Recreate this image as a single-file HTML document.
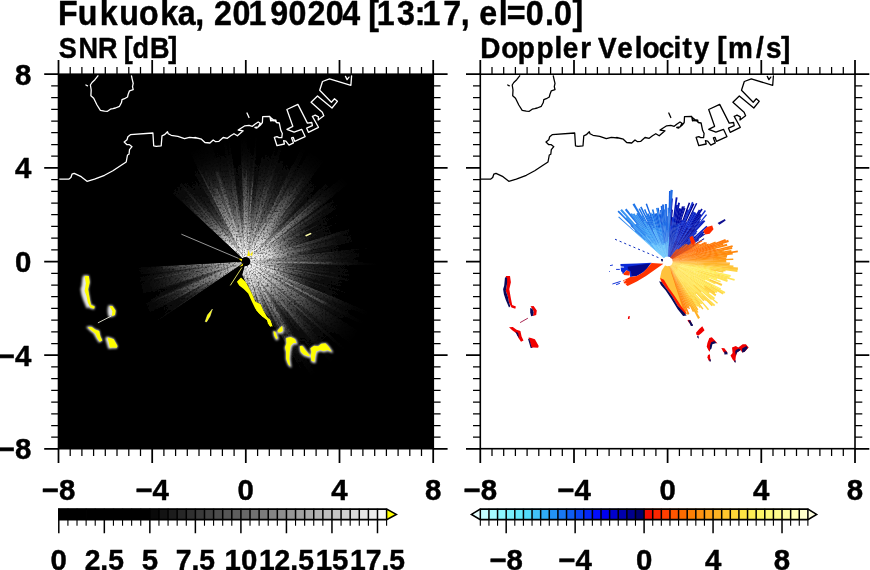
<!DOCTYPE html>
<html><head><meta charset="utf-8"><title>Fukuoka, 20190204 [13:17, el=0.0]</title>
<style>
html,body{margin:0;padding:0;background:#fff;}
svg{display:block}
text{font-family:"Liberation Sans",sans-serif;font-weight:bold;fill:#000;stroke:#000;stroke-width:0.45px;stroke-linejoin:round}
</style></head><body>
<svg width="870" height="570" viewBox="0 0 870 570">
<rect width="870" height="570" fill="#fff"/>

<defs>
<clipPath id="clipL"><rect x="58.5" y="74.2" width="374.8" height="374.5"/></clipPath>
<clipPath id="clipR"><rect x="480.3" y="74.2" width="374.7" height="374.5"/></clipPath>
<radialGradient id="glow" gradientUnits="userSpaceOnUse" cx="249.8" cy="264.6" fx="245.8" fy="261.6" r="128">
<stop offset="0" stop-color="#fff" stop-opacity="1"/>
<stop offset="0.08" stop-color="#fff" stop-opacity="0.97"/>
<stop offset="0.16" stop-color="#fff" stop-opacity="0.88"/>
<stop offset="0.24" stop-color="#fff" stop-opacity="0.73"/>
<stop offset="0.32" stop-color="#fff" stop-opacity="0.58"/>
<stop offset="0.4" stop-color="#fff" stop-opacity="0.45"/>
<stop offset="0.48" stop-color="#fff" stop-opacity="0.34"/>
<stop offset="0.56" stop-color="#fff" stop-opacity="0.25"/>
<stop offset="0.64" stop-color="#fff" stop-opacity="0.165"/>
<stop offset="0.72" stop-color="#fff" stop-opacity="0.1"/>
<stop offset="0.8" stop-color="#fff" stop-opacity="0.055"/>
<stop offset="0.88" stop-color="#fff" stop-opacity="0.022"/>
<stop offset="1" stop-color="#fff" stop-opacity="0"/>
</radialGradient>
<radialGradient id="ray" gradientUnits="userSpaceOnUse" cx="245.8" cy="261.6" r="108">
<stop offset="0" stop-color="#fff" stop-opacity="1"/>
<stop offset="0.5" stop-color="#fff" stop-opacity="0.8"/>
<stop offset="0.85" stop-color="#fff" stop-opacity="0.3"/>
<stop offset="1" stop-color="#fff" stop-opacity="0"/>
</radialGradient>
<radialGradient id="dray" gradientUnits="userSpaceOnUse" cx="245.8" cy="261.6" r="108">
<stop offset="0" stop-color="#000" stop-opacity="0.1"/>
<stop offset="0.15" stop-color="#000" stop-opacity="0.8"/>
<stop offset="1" stop-color="#000" stop-opacity="1"/>
</radialGradient>
<radialGradient id="odark" gradientUnits="userSpaceOnUse" cx="245.8" cy="261.6" r="140">
<stop offset="0" stop-color="#000" stop-opacity="0"/>
<stop offset="0.2" stop-color="#000" stop-opacity="0"/>
<stop offset="0.36" stop-color="#000" stop-opacity="0.55"/>
<stop offset="0.5" stop-color="#000" stop-opacity="0.9"/>
<stop offset="1" stop-color="#000" stop-opacity="1"/>
</radialGradient>
<filter id="grain" filterUnits="userSpaceOnUse" x="106" y="122" width="280" height="280"><feTurbulence type="fractalNoise" baseFrequency="0.55" numOctaves="2" seed="5" result="n"/><feColorMatrix in="n" type="matrix" values="0 0 0 0 1 0 0 0 0 1 0 0 0 0 1 0 0 0 1.6 0.12" result="a"/><feComposite in="SourceGraphic" in2="a" operator="in"/></filter>
<filter id="halo" x="-20%" y="-20%" width="140%" height="140%"><feGaussianBlur stdDeviation="0.9"/></filter>
</defs>
<rect x="58.5" y="74.2" width="374.8" height="374.5" fill="#000"/>
<g clip-path="url(#clipL)">
<clipPath id="glowclip"><path d="M245.8 261.6 L143.5 166.1 L150.3 159.2 L157.7 152.8 L165.4 147.0 L173.6 141.6 L182.1 136.9 L190.9 132.8 L199.9 129.3 L209.2 126.4 L218.7 124.2 L228.3 122.7 L238.0 121.8 L247.7 121.6 L257.4 122.0 L267.1 123.2 L276.6 125.0 L286.0 127.4 L295.2 130.6 L304.2 134.3 L312.9 138.7 L321.3 143.6 L329.3 149.1 L336.9 155.2 L344.0 161.8 L350.7 168.8 L356.9 176.3 L362.6 184.2 L367.7 192.5 L372.1 201.1 L376.0 210.1 L379.3 219.2 L381.9 228.6 L383.9 238.1 L385.2 247.7 L385.8 257.4 L385.7 267.2 L385.0 276.9 L383.6 286.5 L381.5 296.0 L378.8 305.3 L375.5 314.4 L371.5 323.3 L366.9 331.9 L361.7 340.1 L356.0 348.0 L349.7 355.4 L343.0 362.4 L335.7 368.9 L328.1 374.9 L320.0 380.3 L311.6 385.2 L294.7 362.4 L290.2 355.2 L283.1 339.1 L274.1 326.6 L270.5 320.3 L263.4 310.5 L260.7 304.2 L255.3 301.5 L252.6 295.3 L249.1 288.1 L245.5 281.8 L242.3 275.0Z M245.8 261.6 L106.0 268.9 L106.6 276.4 L107.7 283.9 L109.1 291.4 L110.9 298.7 L113.1 306.0 L115.7 313.1 L118.7 320.1 L122.0 326.8 L125.7 333.4 L129.8 339.8Z"/></clipPath>
<g clip-path="url(#glowclip)">
<g filter="url(#grain)">
<path d="M245.8 261.6 L186.7 388.4 L201.0 394.2 L215.8 398.3 L231.0 400.8 L246.3 401.5 L261.7 400.7 L276.9 398.1 L291.7 393.8 L305.9 388.0 L319.4 380.7 L332.0 371.9 L343.6 361.7 L354.0 350.4 L363.1 338.0 L370.8 324.7 L377.0 310.6 L381.6 295.9 L384.5 280.8 L385.8 265.5 L385.4 250.1 L383.3 234.8 L379.5 219.9 L374.1 205.5 L367.2 191.8 L358.8 178.9 L349.1 167.0 L338.1 156.2 L326.0 146.7 L312.9 138.6 L299.0 132.0 L284.4 127.0 L269.4 123.6 L254.2 121.8 L238.8 121.7 L223.5 123.4 L208.4 126.6 L193.9 131.6 L179.9 138.1 L166.8 146.0 L154.6 155.4 L143.5 166.1Z M245.8 261.6 L106.0 268.9 L106.6 276.4 L107.7 283.9 L109.1 291.4 L110.9 298.7 L113.1 306.0 L115.7 313.1 L118.7 320.1 L122.0 326.8 L125.7 333.4 L129.8 339.8Z" fill="url(#glow)"/>
<path d="M244.4 265.3 L212.2 344.9 L213.7 345.5 L244.4 265.3Z" fill="url(#ray)" opacity="0.10"/>
<path d="M244.4 265.3 L223.4 320.1 L224.9 320.6 L244.5 265.3Z" fill="url(#ray)" opacity="0.19"/>
<path d="M244.2 266.3 L198.4 395.4 L199.7 395.8 L244.2 266.3Z" fill="url(#dray)" opacity="0.14"/>
<path d="M244.2 266.3 L199.7 395.8 L201.2 396.4 L244.3 266.3Z" fill="url(#dray)" opacity="0.39"/>
<path d="M244.6 265.3 L217.9 345.9 L219.0 346.2 L244.6 265.4Z" fill="url(#ray)" opacity="0.29"/>
<path d="M244.6 265.4 L214.1 361.5 L216.7 362.3 L244.7 265.4Z" fill="url(#ray)" opacity="0.09"/>
<path d="M244.7 265.4 L227.3 325.6 L229.5 326.2 L244.9 265.4Z" fill="url(#ray)" opacity="0.11"/>
<path d="M244.6 266.4 L211.1 399.2 L213.6 399.8 L244.7 266.4Z" fill="url(#dray)" opacity="0.18"/>
<path d="M244.7 266.4 L213.6 399.8 L217.2 400.6 L244.8 266.4Z" fill="url(#dray)" opacity="0.24"/>
<path d="M245.0 265.5 L233.2 323.0 L234.7 323.3 L245.1 265.5Z" fill="url(#ray)" opacity="0.13"/>
<path d="M245.0 266.5 L220.6 401.3 L224.7 402.0 L245.1 266.5Z" fill="url(#dray)" opacity="0.22"/>
<path d="M245.1 266.5 L224.7 402.0 L228.4 402.5 L245.2 266.5Z" fill="url(#dray)" opacity="0.22"/>
<path d="M245.2 266.5 L228.4 402.5 L232.9 403.0 L245.4 266.5Z" fill="url(#dray)" opacity="0.20"/>
<path d="M245.4 266.5 L232.9 403.0 L236.6 403.2 L245.5 266.5Z" fill="url(#dray)" opacity="0.41"/>
<path d="M245.6 265.5 L239.0 366.4 L242.2 366.6 L245.7 265.5Z" fill="url(#ray)" opacity="0.11"/>
<path d="M245.7 266.5 L240.9 403.5 L243.9 403.5 L245.8 266.5Z" fill="url(#dray)" opacity="0.17"/>
<path d="M245.8 265.5 L244.6 352.3 L246.7 352.3 L245.9 265.5Z" fill="url(#ray)" opacity="0.25"/>
<path d="M246.0 266.5 L250.8 403.5 L253.4 403.3 L246.1 266.5Z" fill="url(#dray)" opacity="0.32"/>
<path d="M246.1 266.5 L253.4 403.3 L257.1 403.1 L246.2 266.5Z" fill="url(#dray)" opacity="0.40"/>
<path d="M246.2 266.5 L257.1 403.1 L262.3 402.6 L246.4 266.5Z" fill="url(#dray)" opacity="0.34"/>
<path d="M246.4 266.5 L262.3 402.6 L263.7 402.4 L246.5 266.5Z" fill="url(#dray)" opacity="0.33"/>
<path d="M246.5 266.5 L263.7 402.4 L269.1 401.6 L246.7 266.5Z" fill="url(#dray)" opacity="0.21"/>
<path d="M246.7 266.5 L269.1 401.6 L271.9 401.1 L246.8 266.5Z" fill="url(#dray)" opacity="0.13"/>
<path d="M246.6 265.5 L257.9 325.8 L259.3 325.5 L246.7 265.5Z" fill="url(#ray)" opacity="0.09"/>
<path d="M246.7 265.5 L260.5 331.4 L262.7 330.9 L246.8 265.4Z" fill="url(#ray)" opacity="0.17"/>
<path d="M246.8 265.4 L264.9 339.9 L267.6 339.2 L246.9 265.4Z" fill="url(#ray)" opacity="0.20"/>
<path d="M247.2 266.4 L284.2 398.3 L288.9 396.9 L247.4 266.3Z" fill="url(#dray)" opacity="0.41"/>
<path d="M247.1 265.4 L269.1 334.4 L270.3 334.0 L247.1 265.3Z" fill="url(#ray)" opacity="0.27"/>
<path d="M247.1 265.3 L267.6 326.1 L270.0 325.2 L247.3 265.3Z" fill="url(#ray)" opacity="0.13"/>
<path d="M247.6 266.2 L296.2 394.3 L298.2 393.5 L247.7 266.2Z" fill="url(#dray)" opacity="0.31"/>
<path d="M247.3 265.3 L275.1 335.2 L276.3 334.7 L247.4 265.2Z" fill="url(#ray)" opacity="0.16"/>
<path d="M247.9 266.1 L303.8 391.2 L307.5 389.5 L248.0 266.1Z" fill="url(#dray)" opacity="0.32"/>
<path d="M247.6 265.2 L289.9 352.9 L292.5 351.6 L247.7 265.1Z" fill="url(#ray)" opacity="0.25"/>
<path d="M248.2 266.0 L311.2 387.6 L315.5 385.3 L248.3 265.9Z" fill="url(#dray)" opacity="0.25"/>
<path d="M247.8 265.0 L289.6 339.3 L291.2 338.3 L247.9 265.0Z" fill="url(#ray)" opacity="0.09"/>
<path d="M247.9 265.0 L280.1 319.6 L280.8 319.3 L247.9 265.0Z" fill="url(#ray)" opacity="0.15"/>
<path d="M247.9 265.0 L280.5 318.8 L281.1 318.5 L248.0 265.0Z" fill="url(#ray)" opacity="0.10"/>
<path d="M248.0 265.0 L298.6 346.8 L300.2 345.7 L248.0 264.9Z" fill="url(#ray)" opacity="0.22"/>
<path d="M248.0 264.9 L287.1 325.4 L287.9 324.8 L248.1 264.9Z" fill="url(#ray)" opacity="0.16"/>
<path d="M248.7 265.7 L325.9 378.8 L330.4 375.7 L248.8 265.6Z" fill="url(#dray)" opacity="0.28"/>
<path d="M248.2 264.8 L290.9 322.4 L291.6 321.9 L248.3 264.7Z" fill="url(#ray)" opacity="0.14"/>
<path d="M248.3 264.7 L282.7 310.2 L284.3 309.0 L248.4 264.7Z" fill="url(#ray)" opacity="0.29"/>
<path d="M248.4 264.7 L299.4 327.5 L301.0 326.2 L248.4 264.6Z" fill="url(#ray)" opacity="0.09"/>
<path d="M249.2 265.3 L340.6 367.3 L344.2 364.0 L249.3 265.2Z" fill="url(#dray)" opacity="0.21"/>
<path d="M248.6 264.4 L312.0 330.4 L313.3 329.1 L248.7 264.4Z" fill="url(#ray)" opacity="0.20"/>
<path d="M248.7 264.4 L295.5 311.3 L297.1 309.7 L248.8 264.3Z" fill="url(#ray)" opacity="0.26"/>
<path d="M249.6 264.8 L353.0 354.8 L355.9 351.2 L249.7 264.7Z" fill="url(#dray)" opacity="0.36"/>
<path d="M249.7 264.7 L355.9 351.2 L357.3 349.5 L249.8 264.6Z" fill="url(#dray)" opacity="0.24"/>
<path d="M249.0 264.0 L303.0 306.7 L303.5 306.1 L249.0 264.0Z" fill="url(#ray)" opacity="0.14"/>
<path d="M249.2 263.7 L305.2 299.5 L305.9 298.3 L249.3 263.6Z" fill="url(#ray)" opacity="0.12"/>
<path d="M250.1 264.2 L366.9 335.7 L368.0 333.9 L250.2 264.1Z" fill="url(#dray)" opacity="0.42"/>
<path d="M250.2 264.1 L368.0 333.9 L370.4 329.8 L250.2 264.0Z" fill="url(#dray)" opacity="0.34"/>
<path d="M249.4 263.5 L325.1 305.0 L326.5 302.4 L249.4 263.4Z" fill="url(#ray)" opacity="0.28"/>
<path d="M250.3 263.8 L372.5 325.7 L374.5 321.6 L250.4 263.7Z" fill="url(#dray)" opacity="0.28"/>
<path d="M250.4 263.7 L374.5 321.6 L375.3 319.8 L250.4 263.6Z" fill="url(#dray)" opacity="0.23"/>
<path d="M249.5 263.1 L341.6 300.9 L342.4 299.0 L249.6 263.0Z" fill="url(#ray)" opacity="0.24"/>
<path d="M249.6 263.0 L308.3 285.8 L308.6 284.9 L249.6 262.9Z" fill="url(#ray)" opacity="0.28"/>
<path d="M249.6 262.9 L337.7 295.7 L338.8 292.7 L249.6 262.8Z" fill="url(#ray)" opacity="0.30"/>
<path d="M249.6 262.8 L326.7 288.6 L327.4 286.3 L249.7 262.7Z" fill="url(#ray)" opacity="0.11"/>
<path d="M250.6 263.0 L382.1 301.6 L383.1 297.8 L250.7 262.8Z" fill="url(#dray)" opacity="0.43"/>
<path d="M249.7 262.5 L315.4 278.3 L316.0 276.0 L249.8 262.4Z" fill="url(#ray)" opacity="0.14"/>
<path d="M250.7 262.6 L384.9 290.2 L385.4 288.0 L250.8 262.5Z" fill="url(#dray)" opacity="0.21"/>
<path d="M249.8 262.3 L345.9 280.5 L346.3 278.4 L249.8 262.2Z" fill="url(#ray)" opacity="0.16"/>
<path d="M250.8 262.4 L385.9 285.0 L386.4 281.9 L250.8 262.3Z" fill="url(#dray)" opacity="0.42"/>
<path d="M250.8 262.2 L386.8 278.9 L387.2 275.6 L250.8 262.0Z" fill="url(#dray)" opacity="0.29"/>
<path d="M250.8 262.0 L387.2 275.6 L387.3 274.3 L250.8 262.0Z" fill="url(#dray)" opacity="0.18"/>
<path d="M250.8 262.0 L387.3 274.3 L387.4 273.0 L250.8 262.0Z" fill="url(#dray)" opacity="0.18"/>
<path d="M250.8 262.0 L387.4 273.0 L387.6 269.8 L250.8 261.8Z" fill="url(#dray)" opacity="0.30"/>
<path d="M250.8 261.8 L387.6 269.8 L387.7 267.2 L250.8 261.7Z" fill="url(#dray)" opacity="0.30"/>
<path d="M249.8 261.7 L331.6 265.0 L331.6 262.2 L249.8 261.6Z" fill="url(#ray)" opacity="0.13"/>
<path d="M250.8 261.6 L387.8 262.6 L387.8 260.2 L250.8 261.5Z" fill="url(#dray)" opacity="0.29"/>
<path d="M250.8 261.5 L387.8 260.2 L387.8 256.6 L250.8 261.4Z" fill="url(#dray)" opacity="0.42"/>
<path d="M250.8 261.4 L387.8 256.6 L387.6 253.5 L250.8 261.3Z" fill="url(#dray)" opacity="0.29"/>
<path d="M250.8 261.3 L387.6 253.5 L387.4 250.1 L250.8 261.1Z" fill="url(#dray)" opacity="0.27"/>
<path d="M250.8 261.1 L387.4 250.1 L387.1 246.7 L250.8 261.0Z" fill="url(#dray)" opacity="0.43"/>
<path d="M249.8 261.0 L330.8 250.1 L330.3 247.0 L249.8 260.9Z" fill="url(#ray)" opacity="0.29"/>
<path d="M249.8 260.9 L310.5 250.4 L310.1 248.2 L249.8 260.7Z" fill="url(#ray)" opacity="0.18"/>
<path d="M249.8 260.7 L307.9 248.7 L307.7 248.0 L249.8 260.7Z" fill="url(#ray)" opacity="0.23"/>
<path d="M250.7 260.3 L383.5 226.7 L383.0 224.9 L250.7 260.3Z" fill="url(#dray)" opacity="0.34"/>
<path d="M249.7 260.5 L345.8 233.5 L344.7 229.7 L249.7 260.3Z" fill="url(#ray)" opacity="0.17"/>
<path d="M249.6 260.2 L321.3 235.3 L320.4 232.8 L249.6 260.1Z" fill="url(#ray)" opacity="0.19"/>
<path d="M249.6 260.1 L315.5 234.7 L315.0 233.4 L249.6 260.0Z" fill="url(#ray)" opacity="0.24"/>
<path d="M250.5 259.7 L377.4 208.0 L376.9 206.8 L250.5 259.6Z" fill="url(#dray)" opacity="0.27"/>
<path d="M249.5 260.0 L327.7 227.3 L327.4 226.6 L249.5 260.0Z" fill="url(#ray)" opacity="0.19"/>
<path d="M249.5 259.8 L301.6 234.8 L301.2 234.1 L249.4 259.8Z" fill="url(#ray)" opacity="0.25"/>
<path d="M249.4 259.8 L317.0 226.3 L316.4 225.1 L249.4 259.7Z" fill="url(#ray)" opacity="0.28"/>
<path d="M249.4 259.7 L305.3 230.9 L304.2 228.9 L249.3 259.6Z" fill="url(#ray)" opacity="0.28"/>
<path d="M250.2 259.1 L369.8 192.3 L368.0 189.1 L250.2 259.0Z" fill="url(#dray)" opacity="0.15"/>
<path d="M250.2 259.0 L368.0 189.1 L367.2 187.8 L250.1 259.0Z" fill="url(#dray)" opacity="0.26"/>
<path d="M250.1 258.9 L366.4 186.5 L364.3 183.2 L250.0 258.8Z" fill="url(#dray)" opacity="0.15"/>
<path d="M249.2 259.3 L329.0 206.6 L327.1 203.8 L249.1 259.2Z" fill="url(#ray)" opacity="0.18"/>
<path d="M249.9 258.7 L361.6 179.2 L360.0 177.1 L249.9 258.6Z" fill="url(#dray)" opacity="0.43"/>
<path d="M249.1 259.2 L313.6 211.4 L312.7 210.3 L249.0 259.1Z" fill="url(#ray)" opacity="0.13"/>
<path d="M249.0 259.1 L295.3 223.6 L294.9 223.1 L249.0 259.1Z" fill="url(#ray)" opacity="0.12"/>
<path d="M249.0 259.1 L320.5 202.9 L319.4 201.6 L249.0 259.0Z" fill="url(#ray)" opacity="0.14"/>
<path d="M249.0 259.0 L304.7 213.6 L303.6 212.2 L248.9 259.0Z" fill="url(#ray)" opacity="0.08"/>
<path d="M248.9 259.0 L317.1 200.7 L316.1 199.5 L248.8 258.9Z" fill="url(#ray)" opacity="0.20"/>
<path d="M249.6 258.2 L352.3 167.5 L350.9 166.0 L249.5 258.2Z" fill="url(#dray)" opacity="0.43"/>
<path d="M249.5 258.2 L350.9 166.0 L349.8 164.8 L249.5 258.1Z" fill="url(#dray)" opacity="0.26"/>
<path d="M249.5 258.1 L349.8 164.8 L347.5 162.4 L249.4 258.1Z" fill="url(#dray)" opacity="0.25"/>
<path d="M249.4 258.1 L347.5 162.4 L345.1 160.0 L249.3 258.0Z" fill="url(#dray)" opacity="0.44"/>
<path d="M249.3 258.0 L345.1 160.0 L343.2 158.1 L249.3 257.9Z" fill="url(#dray)" opacity="0.35"/>
<path d="M248.6 258.6 L297.9 206.2 L296.4 204.8 L248.5 258.6Z" fill="url(#ray)" opacity="0.09"/>
<path d="M248.5 258.6 L308.4 191.3 L307.5 190.5 L248.5 258.5Z" fill="url(#ray)" opacity="0.14"/>
<path d="M248.5 258.5 L310.5 187.0 L309.5 186.1 L248.4 258.5Z" fill="url(#ray)" opacity="0.27"/>
<path d="M248.4 258.5 L291.8 207.2 L290.2 205.9 L248.3 258.4Z" fill="url(#ray)" opacity="0.14"/>
<path d="M248.3 258.4 L296.0 198.6 L294.6 197.5 L248.3 258.4Z" fill="url(#ray)" opacity="0.14"/>
<path d="M248.2 258.3 L305.9 176.1 L303.8 174.7 L248.1 258.2Z" fill="url(#ray)" opacity="0.15"/>
<path d="M248.1 258.2 L288.9 197.0 L287.6 196.2 L248.0 258.2Z" fill="url(#ray)" opacity="0.18"/>
<path d="M248.0 258.2 L290.7 191.4 L289.0 190.4 L247.9 258.1Z" fill="url(#ray)" opacity="0.08"/>
<path d="M247.9 258.1 L286.5 194.5 L285.4 193.9 L247.9 258.1Z" fill="url(#ray)" opacity="0.09"/>
<path d="M247.9 258.1 L281.5 200.5 L280.9 200.2 L247.8 258.1Z" fill="url(#ray)" opacity="0.21"/>
<path d="M248.3 257.2 L316.3 138.3 L313.3 136.6 L248.2 257.1Z" fill="url(#dray)" opacity="0.34"/>
<path d="M247.6 258.0 L293.0 167.4 L291.1 166.5 L247.6 257.9Z" fill="url(#ray)" opacity="0.11"/>
<path d="M248.0 257.0 L306.9 133.3 L303.0 131.6 L247.9 257.0Z" fill="url(#dray)" opacity="0.13"/>
<path d="M247.7 256.9 L298.6 129.7 L295.0 128.3 L247.6 256.9Z" fill="url(#dray)" opacity="0.39"/>
<path d="M247.6 256.9 L295.0 128.3 L293.3 127.7 L247.5 256.8Z" fill="url(#dray)" opacity="0.29"/>
<path d="M247.5 256.8 L293.3 127.7 L288.8 126.2 L247.4 256.8Z" fill="url(#dray)" opacity="0.39"/>
<path d="M247.2 256.7 L285.2 125.1 L281.3 124.0 L247.1 256.7Z" fill="url(#dray)" opacity="0.20"/>
<path d="M246.8 257.7 L265.0 187.4 L264.2 187.2 L246.8 257.7Z" fill="url(#ray)" opacity="0.10"/>
<path d="M247.1 256.7 L279.9 123.7 L275.3 122.6 L246.9 256.7Z" fill="url(#dray)" opacity="0.33"/>
<path d="M246.9 256.7 L275.3 122.6 L271.5 121.9 L246.8 256.6Z" fill="url(#dray)" opacity="0.28"/>
<path d="M246.8 256.6 L271.5 121.9 L270.3 121.7 L246.7 256.6Z" fill="url(#dray)" opacity="0.37"/>
<path d="M246.7 256.6 L270.3 121.7 L266.9 121.1 L246.6 256.6Z" fill="url(#dray)" opacity="0.34"/>
<path d="M246.6 256.6 L266.9 121.1 L265.4 120.9 L246.5 256.6Z" fill="url(#dray)" opacity="0.20"/>
<path d="M246.4 257.6 L258.8 168.9 L257.7 168.8 L246.4 257.6Z" fill="url(#ray)" opacity="0.13"/>
<path d="M246.2 257.6 L253.8 179.9 L251.9 179.7 L246.1 257.6Z" fill="url(#ray)" opacity="0.23"/>
<path d="M246.2 256.6 L256.3 119.9 L251.8 119.7 L246.1 256.6Z" fill="url(#dray)" opacity="0.33"/>
<path d="M246.0 257.6 L248.9 189.9 L248.1 189.9 L246.0 257.6Z" fill="url(#ray)" opacity="0.24"/>
<path d="M246.0 256.6 L250.2 119.6 L247.7 119.6 L245.9 256.6Z" fill="url(#dray)" opacity="0.12"/>
<path d="M245.9 257.6 L247.0 170.6 L246.1 170.6 L245.9 257.6Z" fill="url(#ray)" opacity="0.23"/>
<path d="M245.9 257.6 L246.1 177.8 L243.7 177.8 L245.7 257.6Z" fill="url(#ray)" opacity="0.18"/>
<path d="M245.7 257.6 L243.2 160.5 L240.9 160.6 L245.7 257.6Z" fill="url(#ray)" opacity="0.12"/>
<path d="M245.4 256.6 L233.6 120.1 L232.3 120.2 L245.4 256.6Z" fill="url(#dray)" opacity="0.39"/>
<path d="M245.4 256.6 L232.3 120.2 L227.0 120.8 L245.2 256.6Z" fill="url(#dray)" opacity="0.21"/>
<path d="M245.1 256.6 L224.9 121.1 L222.8 121.4 L245.0 256.6Z" fill="url(#dray)" opacity="0.17"/>
<path d="M244.9 256.6 L219.4 122.0 L217.6 122.4 L244.9 256.6Z" fill="url(#dray)" opacity="0.29"/>
<path d="M244.9 256.6 L217.6 122.4 L212.8 123.5 L244.7 256.7Z" fill="url(#dray)" opacity="0.20"/>
<path d="M244.7 256.7 L212.8 123.5 L207.9 124.7 L244.5 256.7Z" fill="url(#dray)" opacity="0.13"/>
<path d="M244.5 256.7 L207.9 124.7 L206.7 125.1 L244.5 256.7Z" fill="url(#dray)" opacity="0.27"/>
<path d="M244.7 257.7 L224.9 188.7 L223.7 189.0 L244.7 257.7Z" fill="url(#ray)" opacity="0.15"/>
<path d="M244.7 257.7 L218.2 171.2 L215.2 172.1 L244.6 257.8Z" fill="url(#ray)" opacity="0.26"/>
<path d="M244.4 257.8 L217.4 188.8 L216.2 189.3 L244.3 257.9Z" fill="url(#ray)" opacity="0.30"/>
<path d="M244.3 257.9 L215.5 187.8 L213.6 188.7 L244.2 257.9Z" fill="url(#ray)" opacity="0.14"/>
<path d="M244.2 257.9 L206.1 171.6 L205.1 172.0 L244.2 257.9Z" fill="url(#ray)" opacity="0.14"/>
<path d="M244.2 257.9 L216.0 195.8 L213.6 196.9 L244.1 258.0Z" fill="url(#ray)" opacity="0.19"/>
<path d="M244.1 258.0 L199.4 168.5 L198.1 169.2 L244.0 258.0Z" fill="url(#ray)" opacity="0.27"/>
<path d="M243.6 257.1 L180.6 135.4 L176.5 137.6 L243.4 257.2Z" fill="url(#dray)" opacity="0.42"/>
<path d="M243.4 257.2 L176.5 137.6 L172.0 140.3 L243.3 257.3Z" fill="url(#dray)" opacity="0.36"/>
<path d="M243.3 257.3 L172.0 140.3 L170.8 141.0 L243.2 257.3Z" fill="url(#dray)" opacity="0.27"/>
<path d="M243.2 257.3 L170.8 141.0 L167.1 143.4 L243.1 257.4Z" fill="url(#dray)" opacity="0.21"/>
<path d="M243.0 257.4 L165.9 144.2 L164.4 145.2 L243.0 257.5Z" fill="url(#dray)" opacity="0.23"/>
<path d="M243.0 257.5 L164.4 145.2 L162.4 146.7 L242.9 257.5Z" fill="url(#dray)" opacity="0.44"/>
<path d="M242.9 257.5 L162.4 146.7 L160.5 148.1 L242.8 257.6Z" fill="url(#dray)" opacity="0.22"/>
<path d="M243.4 258.4 L205.2 207.4 L203.8 208.5 L243.4 258.4Z" fill="url(#ray)" opacity="0.12"/>
<path d="M243.3 258.5 L181.5 182.8 L179.7 184.3 L243.2 258.5Z" fill="url(#ray)" opacity="0.30"/>
<path d="M243.2 258.5 L201.1 209.3 L199.9 210.3 L243.2 258.6Z" fill="url(#ray)" opacity="0.10"/>
<path d="M243.2 258.6 L198.5 208.7 L197.5 209.6 L243.1 258.6Z" fill="url(#ray)" opacity="0.14"/>
<path d="M243.1 258.7 L190.5 205.1 L188.8 206.8 L243.0 258.8Z" fill="url(#ray)" opacity="0.20"/>
<path d="M243.0 258.8 L200.5 218.0 L199.9 218.7 L242.9 258.8Z" fill="url(#ray)" opacity="0.14"/>
<path d="M241.9 261.8 L162.8 265.9 L163.0 269.0 L241.9 261.9Z" fill="url(#ray)" opacity="0.22"/>
<path d="M241.9 261.9 L173.7 268.0 L173.9 270.5 L241.9 262.0Z" fill="url(#ray)" opacity="0.13"/>
<path d="M240.9 262.2 L104.9 279.1 L105.3 282.0 L240.9 262.3Z" fill="url(#dray)" opacity="0.43"/>
<path d="M241.9 262.3 L154.7 278.0 L154.8 278.9 L241.9 262.3Z" fill="url(#ray)" opacity="0.28"/>
<path d="M240.9 262.5 L106.4 288.1 L107.0 291.3 L241.0 262.6Z" fill="url(#dray)" opacity="0.12"/>
<path d="M242.0 262.6 L183.1 278.5 L183.8 280.9 L242.0 262.7Z" fill="url(#ray)" opacity="0.11"/>
<path d="M241.1 263.0 L110.3 303.8 L111.3 307.0 L241.1 263.2Z" fill="url(#dray)" opacity="0.43"/>
<path d="M241.1 263.2 L111.3 307.0 L112.8 311.1 L241.2 263.3Z" fill="url(#dray)" opacity="0.37"/>
<path d="M241.2 263.3 L112.8 311.1 L113.9 314.0 L241.2 263.4Z" fill="url(#dray)" opacity="0.13"/>
<path d="M242.1 263.0 L150.8 299.4 L152.0 302.4 L242.2 263.1Z" fill="url(#ray)" opacity="0.22"/>
<path d="M242.2 263.1 L180.2 290.1 L180.7 291.3 L242.2 263.2Z" fill="url(#ray)" opacity="0.22"/>
<path d="M242.2 263.2 L188.3 287.8 L189.1 289.5 L242.3 263.3Z" fill="url(#ray)" opacity="0.20"/>
<path d="M242.3 263.3 L182.8 292.6 L183.6 294.2 L242.3 263.4Z" fill="url(#ray)" opacity="0.21"/>
<path d="M242.3 263.4 L174.0 299.3 L174.3 300.0 L242.3 263.4Z" fill="url(#ray)" opacity="0.29"/>
<path d="M242.4 263.5 L183.9 297.0 L184.8 298.5 L242.4 263.6Z" fill="url(#ray)" opacity="0.29"/>
<path d="M242.4 263.6 L193.6 293.1 L194.6 294.6 L242.5 263.7Z" fill="url(#ray)" opacity="0.19"/>
<path d="M241.6 264.3 L126.5 338.5 L128.1 341.0 L241.7 264.3Z" fill="url(#dray)" opacity="0.20"/>
<path d="M240.5 280.8 L207.5 398.3 L217.5 400.7 L241.9 281.1Z" fill="url(#odark)" opacity="0.60"/>
<path d="M250.3 281.0 L277.4 400.0 L287.4 397.3 L251.7 280.7Z" fill="url(#odark)" opacity="0.79"/>
<path d="M253.2 280.2 L297.8 393.7 L310.2 388.1 L254.9 279.4Z" fill="url(#odark)" opacity="0.55"/>
<path d="M256.5 278.5 L321.2 381.9 L336.7 370.7 L258.6 276.9Z" fill="url(#odark)" opacity="0.63"/>
<path d="M259.7 276.0 L344.2 364.0 L350.6 357.4 L260.6 275.0Z" fill="url(#odark)" opacity="0.48"/>
<path d="M264.4 269.1 L377.4 314.9 L381.3 304.1 L264.9 267.5Z" fill="url(#odark)" opacity="0.87"/>
<path d="M264.9 267.5 L381.3 304.1 L385.4 287.9 L265.5 265.3Z" fill="url(#odark)" opacity="0.75"/>
<path d="M265.5 265.3 L385.4 287.9 L387.1 275.9 L265.7 263.6Z" fill="url(#odark)" opacity="0.60"/>
<path d="M265.7 263.6 L387.1 275.9 L387.8 266.4 L265.8 262.2Z" fill="url(#odark)" opacity="0.58"/>
<path d="M265.7 259.3 L387.0 245.7 L385.5 235.8 L265.5 257.9Z" fill="url(#odark)" opacity="0.82"/>
<path d="M265.5 257.9 L385.5 235.8 L381.2 218.7 L264.9 255.5Z" fill="url(#odark)" opacity="0.47"/>
<path d="M264.9 255.5 L381.2 218.7 L376.6 206.2 L264.3 253.8Z" fill="url(#odark)" opacity="0.86"/>
<path d="M264.3 253.8 L376.6 206.2 L372.5 197.3 L263.7 252.5Z" fill="url(#odark)" opacity="0.85"/>
<path d="M263.7 252.5 L372.5 197.3 L368.8 190.4 L263.2 251.5Z" fill="url(#odark)" opacity="0.82"/>
<path d="M263.2 251.5 L368.8 190.4 L359.4 176.3 L261.8 249.5Z" fill="url(#odark)" opacity="0.47"/>
<path d="M260.1 247.5 L347.2 162.1 L333.3 149.7 L258.2 245.8Z" fill="url(#odark)" opacity="0.57"/>
<path d="M254.6 243.6 L307.9 133.8 L297.5 129.3 L253.1 242.9Z" fill="url(#odark)" opacity="0.45"/>
<path d="M248.8 241.8 L266.6 121.1 L258.9 120.2 L247.7 241.6Z" fill="url(#odark)" opacity="0.66"/>
<path d="M245.0 241.6 L239.6 119.7 L227.5 120.7 L243.3 241.7Z" fill="url(#odark)" opacity="0.64"/>
<path d="M235.7 244.3 L174.0 139.0 L164.4 145.3 L234.4 245.2Z" fill="url(#odark)" opacity="0.61"/>
<path d="M234.4 245.2 L164.4 145.3 L151.0 155.9 L232.5 246.7Z" fill="url(#odark)" opacity="0.54"/>
<path d="M232.5 246.7 L151.0 155.9 L142.0 164.7 L231.2 247.9Z" fill="url(#odark)" opacity="0.48"/>
<path d="M226.9 267.8 L111.0 305.9 L114.7 316.0 L227.4 269.2Z" fill="url(#odark)" opacity="0.49"/>
<path d="M228.2 270.9 L120.5 328.3 L127.1 339.4 L229.1 272.5Z" fill="url(#odark)" opacity="0.64"/>
<path d="M245.8 261.6 L103.9 266.5 L104.5 274.7 L105.4 282.8 L106.9 290.8 L108.8 298.8 L111.2 306.6 L114.0 314.3 L117.3 321.8 L120.9 329.1 L125.0 336.2 L129.5 343.0Z" fill="#000" opacity="0.22"/>
</g>
</g>
<line x1="238.5" y1="258.4" x2="181.4" y2="234.2" stroke="#bbb" stroke-width="0.8"/>
<circle cx="245.8" cy="261.6" r="4.6" fill="#000"/>
<path d="M97.9 75.8 L94.9 79.7 L92.0 82.5 L90.4 85.0 L91.2 90.0 L90.9 95.8 L93.7 98.3 L97.0 105.0 L100.4 110.3 L104.5 111.2 L107.5 111.3 L110.4 109.2 L112.9 108.7 L115.4 108.0 L119.5 106.3 L121.5 102.5 L122.0 99.7 L124.5 98.7 L127.5 97.0 L128.2 94.2 L129.5 90.8 L133.2 89.7 L132.5 86.7 L133.2 83.3 L132.0 78.3 L131.5 75.8 M85.9 85.0 L87.5 85.8 M56.7 179.2 L68.7 179.2 L70.9 177.5 L72.0 174.2 L74.2 173.3 L81.2 176.7 L87.0 181.3 L94.5 179.2 L104.5 175.3 L112.9 170.8 L121.2 165.3 L126.2 162.0 L127.5 155.0 L129.0 154.2 L129.5 149.7 L132.0 146.7 L129.5 144.7 L127.0 144.7 L124.2 142.0 L127.0 139.7 L127.9 136.7 L130.4 134.7 L152.9 133.0 L153.7 145.8 L156.2 146.3 L161.2 145.8 L162.0 135.8 L164.5 134.7 L167.5 131.7 L168.2 133.7 L171.2 135.3 L177.9 136.3 L184.5 138.7 L189.5 137.3 L196.2 138.0 L194.9 137.5 L201.5 139.2 L204.9 142.5 L209.9 143.0 L213.2 140.0 L215.7 141.7 L219.0 141.3 L223.2 137.5 L227.4 138.3 L230.7 135.8 L234.0 133.7 L237.4 135.8 L243.2 130.8 L238.2 130.0 L244.9 125.8 L249.0 125.3 L252.4 126.3 L254.9 124.2 L258.2 122.0 L260.2 123.3 L258.2 127.0 L254.9 127.5 L256.9 128.0 L260.2 125.3 L262.4 122.5 L262.7 116.7 L269.9 116.3 L270.7 120.8 L274.9 120.0 L276.2 122.0 L270.5 117.4 L271.0 120.2 L273.3 120.8 L275.8 120.0 L276.4 122.5 L279.3 123.0 L280.8 130.3 L282.3 133.5 L281.8 137.6 L278.9 137.6 L277.0 136.6 L274.3 137.3 L277.0 145.7 L284.4 144.0 L283.6 140.7 L285.9 141.1 L289.0 145.2 L293.5 142.9 L291.6 137.9 L293.2 137.3 L294.7 141.4 L305.1 136.6 L301.7 129.3 L294.1 132.2 L286.9 129.3 L292.8 126.3 L286.9 109.5 L297.9 104.4 L307.4 123.1 L311.8 122.5 L312.4 125.6 L306.7 128.2 L308.4 132.3 L318.5 127.3 L312.4 116.4 L312.4 116.5 L315.2 115.2 L318.5 116.8 L318.2 120.0 L323.8 115.8 L322.3 112.2 L311.1 102.3 L317.5 96.0 L332.0 108.0 L337.4 101.3 L334.5 98.8 L331.4 102.3 L319.7 90.3 L322.5 81.5 L329.5 78.9 L350.9 85.3 L351.6 75.8 M247.0 113.0 L249.0 117.5 M345.5 76.4 L347.1 79.6 L349.0 77.1" fill="none" stroke="#fff" stroke-width="1.3" stroke-linejoin="round" stroke-linecap="round"/>
<g filter="url(#halo)">
<path d="M84.0 276.1 L88.2 276.1 L89.1 282.2 L87.5 289.2 L89.1 298.6 L90.4 304.9 L94.1 306.5 L93.5 308.7 L89.7 307.5 L87.2 302.4 L85.9 296.1 L84.0 291.1 L85.3 283.5Z" fill="#e4e4e4" stroke="#e4e4e4" stroke-width="1.6" stroke-linejoin="round"/>
<path d="M108.7 306.2 L111.8 306.0 L115.0 310.6 L114.4 315.1 L111.2 316.1 L111.8 311.3 L109.9 308.1Z" fill="#e4e4e4" stroke="#e4e4e4" stroke-width="1.6" stroke-linejoin="round"/>
<path d="M87.2 327.2 L91.0 326.9 L94.8 329.7 L98.6 330.9 L99.8 336.6 L101.7 340.4 L99.2 341.7 L96.7 337.9 L94.8 333.5 L90.4 330.3Z" fill="#e4e4e4" stroke="#e4e4e4" stroke-width="1.6" stroke-linejoin="round"/>
<path d="M106.8 337.6 L109.3 337.9 L113.1 339.2 L116.9 346.1 L116.3 347.7 L111.8 347.4 L109.3 347.7 L108.0 341.7Z" fill="#e4e4e4" stroke="#e4e4e4" stroke-width="1.6" stroke-linejoin="round"/>
<path d="M83.2 277.2 L85.3 277.8 L85.3 283.5 L84.0 291.1 L85.9 296.1 L87.2 302.4 L88.5 306.2 L87.2 307.5 L84.0 299.9 L82.1 294.2 L81.3 289.2 L82.4 285.4Z" fill="#e4e4e4" stroke="#e4e4e4" stroke-width="1.6" stroke-linejoin="round"/>
<path d="M108.4 308.1 L110.6 308.7 L111.8 311.9 L111.2 315.7 L109.3 316.3 L108.4 312.5Z" fill="#e4e4e4" stroke="#e4e4e4" stroke-width="1.6" stroke-linejoin="round"/>
<path d="M93.5 331.6 L96.3 333.1 L97.3 337.9 L95.4 335.4Z" fill="#e4e4e4" stroke="#e4e4e4" stroke-width="1.6" stroke-linejoin="round"/>
<path d="M106.1 338.5 L107.7 339.2 L109.7 347.0 L110.9 347.7 L108.9 348.0Z" fill="#e4e4e4" stroke="#e4e4e4" stroke-width="1.6" stroke-linejoin="round"/>
<path d="M278.0 330.8 L282.5 326.3 L283.2 331.3 L281.3 332.9 L278.4 332.9Z" fill="#e4e4e4" stroke="#e4e4e4" stroke-width="1.8" stroke-linejoin="round"/>
<path d="M273.8 331.8 L275.6 332.3 L278.0 338.6 L276.6 339.6 L274.6 336.0Z" fill="#e4e4e4" stroke="#e4e4e4" stroke-width="1.8" stroke-linejoin="round"/>
<path d="M286.5 338.6 L291.1 337.7 L295.3 339.6 L296.8 343.7 L293.7 343.5 L291.1 346.3 L290.1 352.0 L289.6 359.3 L290.6 366.5 L288.5 364.5 L286.5 359.3 L286.5 352.0 L285.4 347.9 L287.0 343.7Z" fill="#e4e4e4" stroke="#e4e4e4" stroke-width="1.8" stroke-linejoin="round"/>
<path d="M300.1 346.8 L302.5 346.3 L306.1 351.0 L310.3 356.2 L309.3 357.2 L304.1 355.1 L301.0 352.0Z" fill="#e4e4e4" stroke="#e4e4e4" stroke-width="1.8" stroke-linejoin="round"/>
<path d="M310.8 348.9 L314.4 346.3 L318.6 346.8 L321.7 344.3 L325.8 343.9 L329.4 347.9 L332.0 352.0 L327.9 350.5 L323.8 351.5 L320.6 350.5 L316.5 352.0 L315.5 357.2 L314.9 362.4 L311.8 361.3 L311.3 356.2 L311.8 352.0Z" fill="#e4e4e4" stroke="#e4e4e4" stroke-width="1.8" stroke-linejoin="round"/>
</g>
<path d="M236.9 281.8 L241.0 277.4 L245.5 281.8 L249.1 288.1 L252.6 295.3 L255.3 301.5 L260.7 304.2 L263.4 310.5 L267.0 316.8 L270.5 320.3 L272.7 326.6 L269.6 325.7 L267.0 320.3 L262.5 316.8 L258.9 313.2 L255.3 308.7 L251.8 301.5 L248.2 293.5 L243.7 289.0 L239.2 285.4Z" fill="#ffff00"/>
<path d="M84.6 276.1 L88.8 276.1 L89.7 282.2 L88.1 289.2 L89.7 298.6 L91.0 304.9 L94.7 306.5 L94.1 308.7 L90.3 307.5 L87.8 302.4 L86.5 296.1 L84.6 291.1 L85.9 283.5Z" fill="#ffff00"/>
<path d="M109.3 306.2 L112.4 306.0 L115.6 310.6 L115.0 315.1 L111.8 316.1 L112.4 311.3 L110.5 308.1Z" fill="#ffff00"/>
<path d="M87.8 327.2 L91.6 326.9 L95.4 329.7 L99.2 330.9 L100.4 336.6 L102.3 340.4 L99.8 341.7 L97.3 337.9 L95.4 333.5 L91.0 330.3Z" fill="#ffff00"/>
<path d="M107.4 337.6 L109.9 337.9 L113.7 339.2 L117.5 346.1 L116.9 347.7 L112.4 347.4 L109.9 347.7 L108.6 341.7Z" fill="#ffff00"/>
<path d="M256.0 310.0 L262.2 310.0 L265.4 315.2 L263.3 317.2 L259.7 314.1Z" fill="#ffff00"/>
<path d="M266.9 319.3 L269.5 318.8 L272.1 325.5 L270.5 327.1 L267.9 323.5Z" fill="#ffff00"/>
<path d="M277.6 330.2 L282.1 325.7 L282.8 330.7 L280.9 332.3 L278.0 332.3Z" fill="#ffff00"/>
<path d="M273.4 331.2 L275.2 331.7 L277.6 338.0 L276.2 339.0 L274.2 335.4Z" fill="#ffff00"/>
<path d="M286.1 338.0 L290.7 337.1 L294.9 339.0 L296.4 343.1 L293.3 342.9 L290.7 345.7 L289.7 351.4 L289.2 358.7 L290.2 365.9 L288.1 363.9 L286.1 358.7 L286.1 351.4 L285.0 347.3 L286.6 343.1Z" fill="#ffff00"/>
<path d="M299.7 346.2 L302.1 345.7 L305.7 350.4 L309.9 355.6 L308.9 356.6 L303.7 354.5 L300.6 351.4Z" fill="#ffff00"/>
<path d="M310.4 348.3 L314.0 345.7 L318.2 346.2 L321.3 343.7 L325.4 343.3 L329.0 347.3 L331.6 351.4 L327.5 349.9 L323.4 350.9 L320.2 349.9 L316.1 351.4 L315.1 356.6 L314.5 361.8 L311.4 360.7 L310.9 355.6 L311.4 351.4Z" fill="#ffff00"/>
<path d="M205.2 321.6 L207.5 315.0 L212.4 309.1 L210.0 316.2 L206.6 321.9Z" fill="#ffff00" stroke="#ffffaa" stroke-width="0.5"/>
<path d="M305.1 235.3 L310.8 232.8 L311.6 234.1 L306.1 236.6Z" fill="#ffffaa"/>
<path d="M247.2 256.0 L248.7 249.8 L250.2 256.0Z" fill="#ffee00"/>
<path d="M250.2 254.8 L252.7 251.0 L252.2 256.0Z" fill="#ffee00"/>
<path d="M238.5 258.5 L242.2 259.0 L241.7 261.5Z" fill="#ffee00"/>
<path d="M239.3 266.8 L243.2 263.3 L242.7 265.8Z" fill="#ffee00"/>
<line x1="97.9" y1="322.9" x2="111.2" y2="316.1" stroke="#ffe" stroke-width="0.8"/>
<line x1="241.9" y1="267.5" x2="230.3" y2="285.4" stroke="#ee6" stroke-width="0.9"/>
</g>
<g clip-path="url(#clipR)">
<path d="M668.0 256.6 L669.5 236.2 L668.7 236.2 L667.8 256.6Z" fill="#47a8f4"/>
<path d="M669.5 236.6 L671.3 211.3 L669.6 211.2 L668.6 236.6Z" fill="#1e6ee6"/>
<path d="M671.3 211.7 L672.8 190.0 L670.5 189.8 L669.6 211.6Z" fill="#236fe5"/>
<path d="M667.9 256.6 L668.8 236.6 L668.1 236.6 L667.7 256.6Z" fill="#4fb1f7"/>
<path d="M668.7 237.0 L669.9 212.0 L668.6 212.0 L668.1 237.0Z" fill="#3080ea"/>
<path d="M669.8 212.4 L670.8 191.0 L669.0 190.9 L668.6 212.4Z" fill="#1660e1"/>
<path d="M667.8 256.6 L668.1 242.5 L667.6 242.5 L667.6 256.6Z" fill="#4badf6"/>
<path d="M668.1 242.9 L668.6 223.8 L667.6 223.8 L667.6 242.9Z" fill="#1664e2"/>
<path d="M668.6 224.2 L668.9 207.8 L667.6 207.7 L667.6 224.2Z" fill="#236fe5"/>
<path d="M667.7 256.6 L667.7 245.4 L667.4 245.4 L667.6 256.6Z" fill="#48aaf5"/>
<path d="M667.7 245.8 L667.8 229.7 L667.1 229.7 L667.4 245.8Z" fill="#1c69e4"/>
<path d="M667.8 230.1 L667.8 216.2 L666.8 216.2 L667.1 230.1Z" fill="#0f56dd"/>
<path d="M667.6 256.6 L667.4 241.1 L666.6 241.2 L667.4 256.6Z" fill="#4fb1f7"/>
<path d="M667.4 241.5 L667.1 221.1 L665.6 221.2 L666.7 241.6Z" fill="#1e6ee6"/>
<path d="M667.1 221.5 L666.9 204.0 L664.8 204.0 L665.7 221.6Z" fill="#236fe5"/>
<path d="M667.4 256.6 L666.8 243.1 L666.4 243.1 L667.3 256.6Z" fill="#48aaf5"/>
<path d="M666.8 243.5 L666.0 225.0 L665.1 225.1 L666.4 243.5Z" fill="#3080ea"/>
<path d="M666.0 225.4 L665.3 209.5 L664.0 209.6 L665.1 225.5Z" fill="#1c69e4"/>
<path d="M667.3 256.6 L666.4 241.3 L665.6 241.4 L667.2 256.6Z" fill="#48aaf5"/>
<path d="M666.4 241.7 L665.1 221.4 L663.7 221.6 L665.7 241.8Z" fill="#1c69e4"/>
<path d="M665.1 221.8 L664.0 204.4 L662.0 204.6 L663.7 222.0Z" fill="#1c69e4"/>
<path d="M667.2 256.6 L665.8 241.8 L665.2 241.9 L667.0 256.6Z" fill="#45a6f3"/>
<path d="M665.8 242.2 L664.0 222.4 L662.7 222.6 L665.2 242.3Z" fill="#3080ea"/>
<path d="M664.0 222.8 L662.4 205.8 L660.6 206.0 L662.8 223.0Z" fill="#1764e2"/>
<path d="M667.0 256.6 L665.4 243.2 L664.9 243.3 L666.9 256.6Z" fill="#43a2f2"/>
<path d="M665.5 243.6 L663.2 225.3 L662.1 225.4 L664.9 243.7Z" fill="#1c69e4"/>
<path d="M663.3 225.7 L661.4 209.9 L659.8 210.1 L662.2 225.8Z" fill="#236fe5"/>
<path d="M666.9 256.6 L665.2 244.7 L664.8 244.8 L666.8 256.6Z" fill="#43a2f2"/>
<path d="M665.2 245.1 L662.7 228.2 L661.9 228.4 L664.8 245.2Z" fill="#1e6ee6"/>
<path d="M662.8 228.6 L660.7 214.1 L659.5 214.3 L662.0 228.8Z" fill="#0f56dd"/>
<path d="M666.8 256.6 L664.5 242.5 L664.0 242.5 L666.7 256.6Z" fill="#47a8f4"/>
<path d="M664.5 242.9 L661.4 223.8 L660.5 223.9 L664.1 242.9Z" fill="#1664e2"/>
<path d="M661.4 224.2 L658.7 207.8 L657.5 208.0 L660.6 224.3Z" fill="#0f56dd"/>
<path d="M666.7 256.6 L664.1 242.5 L663.5 242.6 L666.6 256.7Z" fill="#5ec8fe"/>
<path d="M664.2 242.9 L660.7 223.8 L659.5 224.0 L663.6 243.0Z" fill="#2d8cf0"/>
<path d="M660.7 224.2 L657.7 207.7 L656.0 208.1 L659.5 224.4Z" fill="#2e87ee"/>
<path d="M666.6 256.7 L664.0 244.3 L663.4 244.4 L666.4 256.7Z" fill="#4eb6f9"/>
<path d="M664.1 244.7 L660.4 227.4 L659.2 227.7 L663.5 244.8Z" fill="#2382ee"/>
<path d="M660.5 227.8 L657.3 213.0 L655.6 213.4 L659.3 228.1Z" fill="#1464e1"/>
<path d="M666.5 256.7 L663.5 244.5 L662.9 244.6 L666.3 256.7Z" fill="#50bafb"/>
<path d="M663.6 244.9 L659.4 227.8 L658.3 228.1 L663.0 245.0Z" fill="#3296f5"/>
<path d="M659.5 228.2 L655.9 213.5 L654.4 213.9 L658.4 228.5Z" fill="#1464e1"/>
<path d="M666.3 256.7 L662.6 243.0 L662.0 243.2 L666.2 256.8Z" fill="#56c0fc"/>
<path d="M662.7 243.4 L657.6 224.9 L656.5 225.2 L662.1 243.6Z" fill="#2382ee"/>
<path d="M657.7 225.3 L653.4 209.3 L651.8 209.8 L656.6 225.6Z" fill="#2177e9"/>
<path d="M666.2 256.8 L662.5 244.5 L661.9 244.7 L666.0 256.8Z" fill="#56c0fc"/>
<path d="M662.6 244.9 L657.5 227.8 L656.4 228.2 L662.1 245.0Z" fill="#2382ee"/>
<path d="M657.6 228.2 L653.2 213.5 L651.6 214.0 L656.5 228.5Z" fill="#1a70e8"/>
<path d="M666.1 256.8 L661.9 244.2 L661.4 244.3 L665.9 256.8Z" fill="#46aaf4"/>
<path d="M662.0 244.5 L656.2 227.1 L655.3 227.5 L661.5 244.7Z" fill="#2382ee"/>
<path d="M656.3 227.5 L651.4 212.5 L650.1 213.0 L655.4 227.8Z" fill="#3b94f1"/>
<path d="M666.0 256.8 L660.3 241.0 L659.9 241.1 L665.9 256.9Z" fill="#56c0fc"/>
<path d="M660.5 241.4 L653.1 220.8 L652.2 221.1 L660.0 241.5Z" fill="#2d8cf0"/>
<path d="M653.3 221.2 L647.0 203.5 L645.6 204.0 L652.3 221.5Z" fill="#1464e1"/>
<path d="M665.9 256.9 L661.5 245.1 L661.1 245.2 L665.8 256.9Z" fill="#4ab2f8"/>
<path d="M661.6 245.4 L655.4 229.0 L654.7 229.3 L661.2 245.6Z" fill="#41a5f8"/>
<path d="M655.5 229.3 L650.2 215.2 L649.2 215.6 L654.8 229.6Z" fill="#1464e1"/>
<path d="M665.8 256.9 L660.9 244.4 L660.3 244.6 L665.7 257.0Z" fill="#46aaf4"/>
<path d="M661.0 244.8 L654.2 227.6 L653.2 228.1 L660.5 245.0Z" fill="#41a5f8"/>
<path d="M654.4 228.0 L648.5 213.3 L647.0 213.9 L653.3 228.4Z" fill="#1a70e8"/>
<path d="M665.7 257.0 L659.7 243.0 L659.2 243.2 L665.6 257.0Z" fill="#50bafb"/>
<path d="M659.9 243.3 L652.0 224.7 L651.0 225.2 L659.4 243.5Z" fill="#41a5f8"/>
<path d="M652.1 225.1 L645.3 209.1 L643.9 209.7 L651.1 225.5Z" fill="#2177e9"/>
<path d="M665.6 257.0 L660.2 245.2 L659.9 245.3 L665.5 257.0Z" fill="#4eb6f9"/>
<path d="M660.4 245.5 L653.0 229.2 L652.3 229.5 L660.1 245.7Z" fill="#55b9fc"/>
<path d="M653.2 229.5 L646.8 215.5 L645.8 215.9 L652.5 229.9Z" fill="#2177e9"/>
<path d="M665.5 257.0 L658.4 242.0 L657.9 242.3 L665.4 257.1Z" fill="#56c0fc"/>
<path d="M658.6 242.4 L649.4 222.9 L648.3 223.4 L658.1 242.7Z" fill="#196ee4"/>
<path d="M649.6 223.2 L641.6 206.5 L640.1 207.2 L648.5 223.8Z" fill="#1a70e8"/>
<path d="M665.4 257.1 L660.6 247.4 L660.3 247.6 L665.3 257.1Z" fill="#46aaf4"/>
<path d="M660.8 247.8 L653.7 233.6 L653.1 234.0 L660.5 247.9Z" fill="#2382ee"/>
<path d="M653.9 234.0 L647.8 221.8 L646.9 222.3 L653.3 234.3Z" fill="#1464e1"/>
<path d="M665.3 257.1 L657.8 242.7 L657.3 243.0 L665.2 257.2Z" fill="#56c0fc"/>
<path d="M658.0 243.0 L648.2 224.2 L647.2 224.7 L657.5 243.3Z" fill="#41a5f8"/>
<path d="M648.4 224.5 L639.9 208.3 L638.5 209.1 L647.4 225.1Z" fill="#2177e9"/>
<path d="M665.2 257.2 L658.6 245.1 L658.3 245.3 L665.1 257.2Z" fill="#56c0fc"/>
<path d="M658.8 245.5 L649.8 229.0 L649.1 229.4 L658.5 245.7Z" fill="#3296f5"/>
<path d="M650.0 229.4 L642.2 215.2 L641.2 215.8 L649.3 229.8Z" fill="#247eec"/>
<path d="M665.2 257.2 L655.9 240.9 L655.2 241.3 L665.0 257.3Z" fill="#50bafb"/>
<path d="M656.1 241.3 L644.3 220.7 L643.0 221.5 L655.4 241.7Z" fill="#41a5f8"/>
<path d="M644.5 221.0 L634.4 203.3 L632.5 204.5 L643.2 221.8Z" fill="#2177e9"/>
<path d="M665.1 257.3 L657.1 244.3 L656.6 244.6 L664.9 257.4Z" fill="#4ab2f8"/>
<path d="M657.3 244.6 L646.8 227.3 L645.7 228.0 L656.8 244.9Z" fill="#2d8cf0"/>
<path d="M647.0 227.6 L638.0 212.8 L636.4 213.7 L645.9 228.3Z" fill="#2177e9"/>
<path d="M664.9 257.4 L656.8 244.8 L656.2 245.2 L664.8 257.5Z" fill="#5ec8fe"/>
<path d="M657.0 245.1 L646.2 228.4 L645.0 229.2 L656.5 245.5Z" fill="#41a5f8"/>
<path d="M646.4 228.7 L637.1 214.3 L635.5 215.4 L645.3 229.5Z" fill="#3b94f1"/>
<path d="M664.8 257.4 L655.8 244.4 L655.2 244.9 L664.7 257.5Z" fill="#4ab2f8"/>
<path d="M656.1 244.8 L644.2 227.6 L643.0 228.5 L655.5 245.2Z" fill="#41a5f8"/>
<path d="M644.5 228.0 L634.3 213.2 L632.6 214.5 L643.3 228.8Z" fill="#3b94f1"/>
<path d="M664.7 257.5 L655.0 244.4 L654.5 244.8 L664.6 257.6Z" fill="#4ab2f8"/>
<path d="M655.2 244.7 L642.6 227.5 L641.5 228.3 L654.7 245.1Z" fill="#2d8cf0"/>
<path d="M642.8 227.8 L631.9 213.0 L630.5 214.2 L641.8 228.6Z" fill="#3b94f1"/>
<path d="M664.6 257.6 L653.1 242.8 L652.5 243.3 L664.5 257.7Z" fill="#56c0fc"/>
<path d="M653.3 243.1 L638.8 224.4 L637.6 225.3 L652.8 243.6Z" fill="#3296f5"/>
<path d="M639.0 224.7 L626.5 208.6 L624.9 209.9 L637.9 225.6Z" fill="#2177e9"/>
<path d="M664.5 257.7 L656.6 248.0 L656.1 248.4 L664.3 257.8Z" fill="#50bafb"/>
<path d="M656.8 248.3 L645.7 234.8 L644.8 235.6 L656.4 248.7Z" fill="#55b9fc"/>
<path d="M646.0 235.1 L636.4 223.5 L635.1 224.6 L645.1 235.9Z" fill="#2e87ee"/>
<path d="M664.4 257.8 L651.4 242.9 L650.9 243.4 L664.3 257.9Z" fill="#56c0fc"/>
<path d="M651.7 243.2 L635.5 224.6 L634.4 225.6 L651.1 243.7Z" fill="#2382ee"/>
<path d="M635.8 224.9 L621.8 208.9 L620.2 210.4 L634.6 225.9Z" fill="#3b94f1"/>
<path d="M664.3 257.9 L653.2 245.8 L652.8 246.2 L664.2 258.0Z" fill="#5ec8fe"/>
<path d="M653.4 246.1 L639.0 230.3 L638.1 231.0 L653.0 246.4Z" fill="#41a5f8"/>
<path d="M639.2 230.6 L626.8 217.0 L625.6 218.1 L638.4 231.3Z" fill="#3b94f1"/>
<path d="M664.2 257.9 L650.4 243.5 L649.9 243.9 L664.1 258.0Z" fill="#4eb6f9"/>
<path d="M650.6 243.8 L633.3 225.7 L632.4 226.6 L650.2 244.2Z" fill="#3296f5"/>
<path d="M633.6 226.0 L618.8 210.5 L617.5 211.7 L632.7 226.9Z" fill="#2177e9"/>
<path d="M664.1 258.0 L654.7 248.5 L654.4 248.8 L664.0 258.1Z" fill="#5ec8fe"/>
<path d="M655.0 248.8 L642.0 235.8 L641.4 236.4 L654.7 249.1Z" fill="#3296f5"/>
<path d="M642.3 236.1 L631.1 224.9 L630.3 225.7 L641.7 236.7Z" fill="#1a70e8"/>
<path d="M664.1 258.1 L656.1 250.3 L655.8 250.7 L664.0 258.2Z" fill="#5ec8fe"/>
<path d="M656.4 250.6 L644.8 239.4 L644.2 240.0 L656.1 250.9Z" fill="#55b9fc"/>
<path d="M645.1 239.7 L635.1 230.0 L634.2 230.9 L644.5 240.3Z" fill="#247eec"/>
<path d="M664.0 258.2 L650.4 245.6 L650.2 245.9 L663.9 258.2Z" fill="#4ab2f8"/>
<path d="M650.7 245.9 L633.5 229.9 L633.0 230.5 L650.5 246.2Z" fill="#55b9fc"/>
<path d="M633.8 230.2 L619.0 216.5 L618.2 217.3 L633.3 230.8Z" fill="#2e87ee"/>
<path d="M672.0 259.1 L677.7 255.8 L677.5 255.4 L671.9 258.9Z" fill="#000aa0"/>
<path d="M677.4 256.0 L687.4 250.2 L687.0 249.5 L677.2 255.6Z" fill="#0514af"/>
<path d="M687.1 250.4 L695.8 245.4 L695.2 244.5 L686.7 249.7Z" fill="#0a1ebe"/>
<path d="M671.9 258.9 L680.7 253.5 L680.5 253.3 L671.9 258.8Z" fill="#0a1ebe"/>
<path d="M680.4 253.7 L693.4 245.7 L693.1 245.2 L680.2 253.5Z" fill="#0a1ebe"/>
<path d="M693.1 245.9 L704.4 239.0 L703.8 238.2 L692.7 245.4Z" fill="#00008c"/>
<path d="M671.9 258.9 L677.3 255.4 L677.1 255.0 L671.8 258.7Z" fill="#0514af"/>
<path d="M677.0 255.6 L686.7 249.4 L686.2 248.8 L676.8 255.3Z" fill="#000aa0"/>
<path d="M686.3 249.6 L694.7 244.3 L694.1 243.4 L685.9 249.0Z" fill="#000aa0"/>
<path d="M671.8 258.7 L678.9 253.9 L678.7 253.5 L671.7 258.6Z" fill="#000aa0"/>
<path d="M678.6 254.1 L689.9 246.4 L689.4 245.6 L678.3 253.7Z" fill="#0a1ebe"/>
<path d="M689.6 246.6 L699.3 240.0 L698.5 238.9 L689.0 245.9Z" fill="#0a1ebe"/>
<path d="M671.7 258.6 L680.9 251.9 L680.7 251.6 L671.6 258.5Z" fill="#00008c"/>
<path d="M680.6 252.2 L693.9 242.5 L693.5 242.0 L680.4 251.9Z" fill="#00008c"/>
<path d="M693.5 242.8 L705.0 234.5 L704.4 233.7 L693.1 242.2Z" fill="#00008c"/>
<path d="M671.7 258.6 L680.6 251.9 L680.3 251.5 L671.6 258.4Z" fill="#1432d2"/>
<path d="M680.2 252.1 L693.2 242.4 L692.6 241.6 L679.9 251.7Z" fill="#0a1ebe"/>
<path d="M692.8 242.7 L704.0 234.3 L703.1 233.2 L692.2 241.9Z" fill="#0514af"/>
<path d="M671.6 258.4 L682.1 250.1 L681.8 249.6 L671.5 258.3Z" fill="#0a1ebe"/>
<path d="M681.8 250.3 L696.3 238.9 L695.6 238.0 L681.5 249.9Z" fill="#0514af"/>
<path d="M696.0 239.1 L708.5 229.3 L707.4 227.9 L695.3 238.2Z" fill="#000aa0"/>
<path d="M671.5 258.3 L680.3 251.0 L680.0 250.7 L671.4 258.2Z" fill="#1432d2"/>
<path d="M680.0 251.3 L692.6 240.7 L692.1 240.1 L679.7 251.0Z" fill="#0a1ebe"/>
<path d="M692.3 241.0 L703.1 231.9 L702.4 231.0 L691.8 240.4Z" fill="#1432d2"/>
<path d="M671.4 258.3 L681.8 249.2 L681.4 248.8 L671.3 258.2Z" fill="#1432d2"/>
<path d="M681.5 249.5 L695.6 237.2 L694.9 236.3 L681.1 249.1Z" fill="#000aa0"/>
<path d="M695.3 237.5 L707.5 226.9 L706.4 225.7 L694.6 236.6Z" fill="#0a1ebe"/>
<path d="M671.3 258.2 L677.3 252.7 L677.0 252.4 L671.2 258.0Z" fill="#000aa0"/>
<path d="M677.0 253.0 L686.6 244.1 L686.0 243.5 L676.7 252.7Z" fill="#000aa0"/>
<path d="M686.3 244.4 L694.6 236.8 L693.8 235.9 L685.7 243.8Z" fill="#1432d2"/>
<path d="M671.2 258.1 L678.0 251.5 L677.7 251.2 L671.1 258.0Z" fill="#00008c"/>
<path d="M677.7 251.8 L688.0 241.7 L687.6 241.2 L677.5 251.5Z" fill="#0514af"/>
<path d="M687.7 242.0 L696.7 233.3 L696.0 232.6 L687.3 241.5Z" fill="#0514af"/>
<path d="M671.2 258.0 L678.3 250.8 L677.9 250.4 L671.0 257.9Z" fill="#000aa0"/>
<path d="M678.0 251.1 L688.6 240.3 L687.9 239.6 L677.6 250.7Z" fill="#00008c"/>
<path d="M688.3 240.6 L697.5 231.4 L696.4 230.4 L687.6 239.9Z" fill="#1432d2"/>
<path d="M671.1 257.9 L681.0 247.2 L680.5 246.8 L670.9 257.8Z" fill="#000aa0"/>
<path d="M680.7 247.5 L694.1 233.2 L693.1 232.3 L680.3 247.1Z" fill="#0a1ebe"/>
<path d="M693.8 233.5 L705.3 221.2 L703.9 219.9 L692.9 232.6Z" fill="#0a1ebe"/>
<path d="M671.0 257.8 L680.3 247.2 L679.9 246.9 L670.9 257.7Z" fill="#0a1ebe"/>
<path d="M680.0 247.5 L692.6 233.2 L692.0 232.6 L679.7 247.2Z" fill="#0a1ebe"/>
<path d="M692.4 233.5 L703.2 221.2 L702.3 220.4 L691.7 232.9Z" fill="#0a1ebe"/>
<path d="M670.9 257.7 L681.6 245.1 L681.2 244.8 L670.8 257.7Z" fill="#0a1ebe"/>
<path d="M681.4 245.4 L695.3 229.0 L694.6 228.3 L681.0 245.1Z" fill="#00008c"/>
<path d="M695.1 229.3 L707.1 215.1 L706.0 214.2 L694.3 228.7Z" fill="#1432d2"/>
<path d="M670.8 257.7 L679.2 247.4 L678.9 247.2 L670.7 257.6Z" fill="#0514af"/>
<path d="M679.0 247.8 L690.5 233.6 L689.8 233.1 L678.6 247.5Z" fill="#0a1ebe"/>
<path d="M690.3 234.0 L700.2 221.8 L699.2 221.0 L689.6 233.4Z" fill="#000aa0"/>
<path d="M670.7 257.6 L679.5 246.5 L679.2 246.2 L670.6 257.5Z" fill="#0a1ebe"/>
<path d="M679.3 246.8 L691.2 231.7 L690.4 231.1 L678.9 246.5Z" fill="#1432d2"/>
<path d="M690.9 232.0 L701.1 219.0 L700.1 218.2 L690.2 231.5Z" fill="#0514af"/>
<path d="M670.7 257.6 L681.2 243.6 L680.8 243.3 L670.6 257.5Z" fill="#1432d2"/>
<path d="M681.0 243.9 L694.6 226.0 L693.7 225.4 L680.6 243.7Z" fill="#0514af"/>
<path d="M694.3 226.3 L706.0 210.9 L704.8 210.1 L693.5 225.8Z" fill="#1432d2"/>
<path d="M670.6 257.5 L679.7 245.0 L679.4 244.8 L670.5 257.4Z" fill="#1432d2"/>
<path d="M679.5 245.3 L691.6 228.8 L690.9 228.3 L679.1 245.1Z" fill="#00008c"/>
<path d="M691.3 229.1 L701.7 214.9 L700.7 214.2 L690.6 228.6Z" fill="#00008c"/>
<path d="M670.5 257.5 L679.5 244.8 L679.0 244.5 L670.4 257.4Z" fill="#0514af"/>
<path d="M679.2 245.1 L691.1 228.4 L690.1 227.7 L678.8 244.8Z" fill="#00008c"/>
<path d="M690.8 228.7 L701.0 214.3 L699.6 213.3 L689.9 228.0Z" fill="#0a1ebe"/>
<path d="M670.4 257.4 L680.1 243.1 L679.6 242.7 L670.3 257.3Z" fill="#00008c"/>
<path d="M679.8 243.4 L692.2 224.9 L691.3 224.3 L679.3 243.1Z" fill="#1432d2"/>
<path d="M692.0 225.3 L702.7 209.4 L701.3 208.4 L691.0 224.6Z" fill="#000aa0"/>
<path d="M670.3 257.3 L679.2 243.4 L678.7 243.1 L670.2 257.3Z" fill="#0a1ebe"/>
<path d="M679.0 243.8 L690.6 225.7 L689.6 225.1 L678.5 243.5Z" fill="#1432d2"/>
<path d="M690.4 226.0 L700.4 210.5 L698.9 209.6 L689.4 225.4Z" fill="#0514af"/>
<path d="M670.3 257.3 L678.0 244.6 L677.6 244.4 L670.2 257.2Z" fill="#1432d2"/>
<path d="M677.8 245.0 L688.1 228.0 L687.3 227.6 L677.4 244.7Z" fill="#00008c"/>
<path d="M687.9 228.4 L696.7 213.8 L695.6 213.2 L687.1 227.9Z" fill="#1432d2"/>
<path d="M670.2 257.2 L677.7 244.3 L677.2 244.0 L670.0 257.2Z" fill="#0514af"/>
<path d="M677.5 244.7 L687.6 227.4 L686.6 226.8 L677.0 244.4Z" fill="#000aa0"/>
<path d="M687.4 227.8 L696.1 213.0 L694.6 212.1 L686.4 227.2Z" fill="#0a1ebe"/>
<path d="M670.1 257.2 L677.3 244.1 L676.7 243.7 L669.9 257.1Z" fill="#0a1ebe"/>
<path d="M677.1 244.4 L686.7 227.0 L685.5 226.3 L676.5 244.1Z" fill="#1432d2"/>
<path d="M686.6 227.3 L694.8 212.3 L693.1 211.3 L685.3 226.7Z" fill="#1432d2"/>
<path d="M669.9 257.1 L678.2 241.0 L677.7 240.8 L669.8 257.1Z" fill="#0a1ebe"/>
<path d="M678.0 241.4 L688.5 220.9 L687.6 220.4 L677.5 241.2Z" fill="#1432d2"/>
<path d="M688.3 221.2 L697.3 203.6 L696.0 203.0 L687.4 220.8Z" fill="#000aa0"/>
<path d="M669.9 257.1 L674.5 247.5 L674.2 247.3 L669.7 257.0Z" fill="#000aa0"/>
<path d="M674.4 247.9 L681.3 233.8 L680.5 233.5 L674.0 247.7Z" fill="#0514af"/>
<path d="M681.1 234.2 L687.0 222.1 L686.0 221.6 L680.4 233.8Z" fill="#000aa0"/>
<path d="M669.8 257.0 L677.1 241.2 L676.5 240.9 L669.6 257.0Z" fill="#00008c"/>
<path d="M677.0 241.5 L686.4 221.2 L685.2 220.6 L676.4 241.3Z" fill="#1432d2"/>
<path d="M686.3 221.5 L694.4 204.0 L692.7 203.3 L685.1 221.0Z" fill="#00008c"/>
<path d="M669.6 257.0 L676.8 240.6 L676.3 240.4 L669.5 256.9Z" fill="#0514af"/>
<path d="M676.6 241.0 L685.8 220.0 L684.8 219.6 L676.1 240.8Z" fill="#0514af"/>
<path d="M685.6 220.4 L693.4 202.4 L692.0 201.8 L684.6 220.0Z" fill="#1432d2"/>
<path d="M669.6 256.9 L675.2 243.2 L674.7 243.0 L669.4 256.9Z" fill="#00008c"/>
<path d="M675.1 243.6 L682.7 225.3 L681.6 224.8 L674.5 243.4Z" fill="#000aa0"/>
<path d="M682.5 225.7 L689.1 209.9 L687.5 209.3 L681.4 225.2Z" fill="#1432d2"/>
<path d="M669.4 256.9 L675.7 240.8 L675.1 240.6 L669.3 256.8Z" fill="#000aa0"/>
<path d="M675.5 241.2 L683.5 220.4 L682.4 220.0 L675.0 241.0Z" fill="#1432d2"/>
<path d="M683.4 220.8 L690.2 202.9 L688.7 202.4 L682.3 220.4Z" fill="#00008c"/>
<path d="M669.4 256.8 L673.0 246.7 L672.6 246.6 L669.2 256.8Z" fill="#0f37cd"/>
<path d="M672.9 247.1 L678.2 232.3 L677.4 232.0 L672.4 247.0Z" fill="#0a2dbe"/>
<path d="M678.1 232.7 L682.7 220.0 L681.5 219.5 L677.2 232.4Z" fill="#0a1ebe"/>
<path d="M669.2 256.8 L674.0 242.7 L673.5 242.5 L669.1 256.8Z" fill="#0c32c6"/>
<path d="M673.8 243.0 L680.2 224.1 L679.3 223.9 L673.4 242.9Z" fill="#1441d7"/>
<path d="M680.0 224.5 L685.5 208.3 L684.2 207.9 L679.1 224.2Z" fill="#000aa0"/>
<path d="M669.1 256.8 L673.8 242.0 L673.3 241.9 L669.0 256.7Z" fill="#0f37cd"/>
<path d="M673.7 242.4 L679.8 222.9 L678.9 222.6 L673.2 242.3Z" fill="#0f37cd"/>
<path d="M679.7 223.2 L684.9 206.4 L683.7 206.0 L678.8 223.0Z" fill="#0514af"/>
<path d="M669.1 256.8 L673.4 242.1 L672.7 242.0 L668.9 256.7Z" fill="#0c32c6"/>
<path d="M673.3 242.5 L679.0 223.1 L677.6 222.7 L672.6 242.3Z" fill="#0f37cd"/>
<path d="M678.9 223.5 L683.8 206.8 L681.9 206.3 L677.5 223.1Z" fill="#000aa0"/>
<path d="M668.9 256.7 L672.6 242.9 L672.1 242.7 L668.8 256.7Z" fill="#0a28b4"/>
<path d="M672.5 243.2 L677.4 224.6 L676.4 224.3 L672.0 243.1Z" fill="#0a28b4"/>
<path d="M677.3 224.9 L681.5 208.9 L680.2 208.5 L676.3 224.7Z" fill="#0514af"/>
<path d="M668.8 256.7 L672.2 242.7 L671.5 242.6 L668.7 256.7Z" fill="#0a28b4"/>
<path d="M672.1 243.1 L676.6 224.3 L675.4 224.0 L671.5 243.0Z" fill="#0a2dbe"/>
<path d="M676.6 224.7 L680.5 208.5 L678.6 208.1 L675.3 224.4Z" fill="#000aa0"/>
<path d="M668.7 256.7 L672.0 240.8 L671.4 240.7 L668.5 256.6Z" fill="#0c32c6"/>
<path d="M671.9 241.2 L676.3 220.4 L675.0 220.2 L671.3 241.1Z" fill="#0a2dbe"/>
<path d="M676.2 220.8 L680.0 203.0 L678.1 202.6 L675.0 220.6Z" fill="#0514af"/>
<path d="M668.6 256.6 L671.3 241.5 L670.7 241.4 L668.4 256.6Z" fill="#0f37cd"/>
<path d="M671.3 241.9 L674.9 221.9 L673.6 221.7 L670.6 241.8Z" fill="#0a28b4"/>
<path d="M674.9 222.3 L678.0 205.1 L676.2 204.8 L673.6 222.1Z" fill="#0514af"/>
<path d="M668.4 256.6 L671.2 238.9 L670.5 238.8 L668.3 256.6Z" fill="#0f37cd"/>
<path d="M671.1 239.3 L674.7 216.6 L673.3 216.4 L670.5 239.2Z" fill="#0c32c6"/>
<path d="M674.6 217.0 L677.6 197.4 L675.7 197.2 L673.3 216.8Z" fill="#0514af"/>
<path d="M668.3 256.6 L669.7 245.8 L669.2 245.7 L668.1 256.6Z" fill="#0a2dbe"/>
<path d="M669.7 246.2 L671.7 230.4 L670.6 230.3 L669.1 246.1Z" fill="#0a28b4"/>
<path d="M671.7 230.8 L673.5 217.3 L671.9 217.1 L670.6 230.7Z" fill="#1432d2"/>
<path d="M668.1 256.6 L669.5 243.1 L669.1 243.1 L668.0 256.6Z" fill="#0f37cd"/>
<path d="M669.5 243.5 L671.3 225.1 L670.5 225.0 L669.0 243.5Z" fill="#1441d7"/>
<path d="M671.3 225.5 L672.9 209.7 L671.7 209.5 L670.4 225.4Z" fill="#00008c"/>
<path d="M668.1 256.6 L669.5 239.2 L669.2 239.2 L668.0 256.6Z" fill="#0c32c6"/>
<path d="M669.5 239.6 L671.3 217.3 L670.6 217.2 L669.1 239.6Z" fill="#0a28b4"/>
<path d="M671.3 217.7 L672.9 198.5 L671.9 198.4 L670.6 217.6Z" fill="#0a1ebe"/>
<path d="M703.3 231.0 L706.9 226.9 L712.2 225.6 L713.5 229.2 L709.6 233.7 L705.1 234.6Z" fill="#ff2a00"/>
<path d="M717.6 223.0 L724.8 219.0 L725.7 220.5 L719.4 224.7Z" fill="#101090"/>
<path d="M667.6 261.6 L661.6 270.8 L659.8 278.9 L661.6 281.9 L666.6 288.7 L672.0 295.9 L677.7 305.7 L684.5 314.1 L687.2 314.6Z" fill="#ffc23c"/>
<path d="M669.2 266.3 L671.1 272.1 L671.4 272.0 L669.3 266.3Z" fill="#ff8c17"/>
<path d="M670.9 271.8 L675.7 286.4 L676.5 286.1 L671.3 271.6Z" fill="#ff8214"/>
<path d="M675.5 286.0 L680.6 301.7 L681.9 301.3 L676.3 285.8Z" fill="#ff8715"/>
<path d="M680.5 301.3 L684.2 312.9 L685.9 312.4 L681.8 300.9Z" fill="#ff8715"/>
<path d="M669.3 266.3 L671.3 271.8 L671.5 271.7 L669.4 266.2Z" fill="#ff8c17"/>
<path d="M671.1 271.4 L676.1 285.6 L676.8 285.4 L671.4 271.3Z" fill="#ff8214"/>
<path d="M676.0 285.3 L681.4 300.5 L682.4 300.1 L676.6 285.0Z" fill="#ff8d16"/>
<path d="M681.2 300.1 L685.2 311.3 L686.5 310.9 L682.2 299.7Z" fill="#ff8214"/>
<path d="M669.4 266.2 L671.8 272.5 L672.1 272.3 L669.6 266.2Z" fill="#ff9018"/>
<path d="M671.6 272.1 L677.3 287.3 L678.2 286.9 L672.0 272.0Z" fill="#ff8716"/>
<path d="M677.2 286.9 L683.3 303.1 L684.6 302.6 L678.0 286.6Z" fill="#ff8816"/>
<path d="M683.1 302.7 L687.6 314.7 L689.4 314.0 L684.5 302.2Z" fill="#ff8816"/>
<path d="M669.5 266.2 L671.6 271.2 L671.9 271.1 L669.7 266.1Z" fill="#ff961b"/>
<path d="M671.5 270.9 L676.9 284.3 L677.7 283.9 L671.8 270.7Z" fill="#ff911b"/>
<path d="M676.8 283.9 L682.6 298.2 L683.9 297.7 L677.5 283.6Z" fill="#ff951b"/>
<path d="M682.5 297.8 L686.8 308.5 L688.4 307.8 L683.7 297.3Z" fill="#ff981a"/>
<path d="M669.7 266.1 L672.0 271.4 L672.3 271.3 L669.8 266.1Z" fill="#ff9d1f"/>
<path d="M671.8 271.0 L677.9 284.6 L678.5 284.4 L672.1 270.9Z" fill="#ff9b20"/>
<path d="M677.7 284.3 L684.2 298.9 L685.2 298.4 L678.3 284.0Z" fill="#ff9b20"/>
<path d="M684.0 298.5 L688.8 309.3 L690.0 308.7 L685.0 298.0Z" fill="#ff9b20"/>
<path d="M669.8 266.1 L672.0 270.9 L672.3 270.7 L669.9 266.0Z" fill="#ffa221"/>
<path d="M671.9 270.5 L677.9 283.4 L678.6 283.1 L672.1 270.4Z" fill="#ffa323"/>
<path d="M677.7 283.1 L684.2 296.9 L685.3 296.4 L678.4 282.8Z" fill="#ffa323"/>
<path d="M684.1 296.5 L688.8 306.8 L690.2 306.1 L685.1 296.0Z" fill="#ffa420"/>
<path d="M669.9 266.0 L672.8 271.9 L673.1 271.8 L670.0 266.0Z" fill="#ffa824"/>
<path d="M672.7 271.6 L679.8 286.0 L680.6 285.6 L673.0 271.4Z" fill="#ffac28"/>
<path d="M679.7 285.6 L687.3 301.0 L688.5 300.4 L680.4 285.2Z" fill="#ffaa25"/>
<path d="M687.2 300.6 L692.8 312.0 L694.4 311.2 L688.3 300.0Z" fill="#ffaa24"/>
<path d="M670.0 266.0 L673.9 273.3 L674.3 273.1 L670.1 265.9Z" fill="#ffae26"/>
<path d="M673.7 272.9 L682.4 289.3 L683.3 288.7 L674.1 272.7Z" fill="#ffb229"/>
<path d="M682.2 288.9 L691.4 306.3 L692.9 305.5 L683.1 288.4Z" fill="#ffb52c"/>
<path d="M691.3 306.0 L698.1 318.9 L700.0 317.8 L692.7 305.2Z" fill="#ffae24"/>
<path d="M670.1 265.9 L673.7 272.1 L674.0 272.0 L670.2 265.8Z" fill="#ffb429"/>
<path d="M673.5 271.8 L681.8 286.5 L682.6 286.0 L673.8 271.6Z" fill="#ffbb2d"/>
<path d="M681.6 286.1 L690.5 301.8 L691.7 301.1 L682.3 285.7Z" fill="#ffbf30"/>
<path d="M690.3 301.5 L696.9 313.1 L698.5 312.2 L691.5 300.8Z" fill="#ffbe2f"/>
<path d="M670.2 265.8 L673.7 271.6 L674.0 271.4 L670.4 265.8Z" fill="#ffba2c"/>
<path d="M673.5 271.2 L681.8 285.1 L682.5 284.7 L673.8 271.1Z" fill="#ffc835"/>
<path d="M681.6 284.8 L690.6 299.7 L691.7 298.9 L682.3 284.4Z" fill="#ffc835"/>
<path d="M690.4 299.3 L697.0 310.3 L698.4 309.4 L691.5 298.6Z" fill="#ffb828"/>
<path d="M670.3 265.8 L673.5 270.7 L673.7 270.6 L670.4 265.7Z" fill="#ffcb3c"/>
<path d="M673.3 270.4 L681.4 283.1 L681.8 282.8 L673.5 270.3Z" fill="#ffe24e"/>
<path d="M681.2 282.8 L689.8 296.4 L690.6 295.9 L681.6 282.5Z" fill="#ffe24e"/>
<path d="M689.6 296.0 L696.0 306.1 L697.0 305.5 L690.4 295.5Z" fill="#ffcd3c"/>
<path d="M670.4 265.7 L673.8 270.9 L674.0 270.7 L670.5 265.7Z" fill="#ffcc3d"/>
<path d="M673.6 270.5 L682.1 283.4 L682.6 283.1 L673.8 270.4Z" fill="#ffe24e"/>
<path d="M681.9 283.1 L691.0 296.9 L691.8 296.3 L682.4 282.7Z" fill="#ffd745"/>
<path d="M690.8 296.5 L697.5 306.8 L698.6 306.0 L691.6 296.0Z" fill="#ffde4b"/>
<path d="M670.5 265.7 L674.2 271.1 L674.5 270.9 L670.6 265.6Z" fill="#ffcc3d"/>
<path d="M674.0 270.8 L683.1 284.1 L683.7 283.6 L674.3 270.6Z" fill="#ffce3e"/>
<path d="M682.9 283.7 L692.7 297.9 L693.7 297.2 L683.5 283.3Z" fill="#ffd342"/>
<path d="M692.4 297.6 L699.6 308.1 L700.9 307.2 L693.4 296.9Z" fill="#ffda47"/>
<path d="M670.6 265.6 L674.8 271.4 L675.0 271.3 L670.7 265.5Z" fill="#ffcc3e"/>
<path d="M674.5 271.1 L684.4 284.8 L685.0 284.4 L674.8 270.9Z" fill="#ffe350"/>
<path d="M684.2 284.5 L694.7 299.1 L695.7 298.5 L684.7 284.1Z" fill="#ffd948"/>
<path d="M694.5 298.8 L702.3 309.6 L703.5 308.8 L695.4 298.1Z" fill="#ffc939"/>
<path d="M670.7 265.5 L674.3 270.4 L674.5 270.2 L670.8 265.5Z" fill="#ffcc3e"/>
<path d="M674.0 270.0 L683.2 282.2 L683.8 281.8 L674.3 269.8Z" fill="#ffe450"/>
<path d="M682.9 281.9 L692.7 295.0 L693.7 294.2 L683.5 281.5Z" fill="#ffe450"/>
<path d="M692.5 294.6 L699.7 304.3 L701.0 303.3 L693.5 293.9Z" fill="#ffd543"/>
<path d="M670.7 265.5 L674.6 270.3 L674.8 270.2 L670.9 265.4Z" fill="#ffcc3e"/>
<path d="M674.4 270.0 L684.0 282.2 L684.5 281.8 L674.6 269.9Z" fill="#ffe451"/>
<path d="M683.7 281.9 L694.0 295.0 L694.9 294.2 L684.3 281.5Z" fill="#ffd847"/>
<path d="M693.8 294.6 L701.4 304.3 L702.5 303.4 L694.7 293.9Z" fill="#ffe350"/>
<path d="M670.8 265.4 L675.9 271.6 L676.1 271.3 L670.9 265.3Z" fill="#ffcd3f"/>
<path d="M675.7 271.2 L687.1 285.1 L687.7 284.6 L675.9 271.0Z" fill="#ffe250"/>
<path d="M686.9 284.8 L699.1 299.7 L700.0 298.9 L687.4 284.3Z" fill="#ffe552"/>
<path d="M698.9 299.3 L707.9 310.3 L709.1 309.3 L699.8 298.6Z" fill="#ffdd4b"/>
<path d="M670.9 265.3 L673.5 268.3 L673.7 268.2 L671.0 265.3Z" fill="#ffcd3f"/>
<path d="M673.2 268.0 L681.2 277.4 L681.7 277.0 L673.4 267.9Z" fill="#ffd646"/>
<path d="M681.0 277.1 L689.6 287.1 L690.3 286.5 L681.4 276.7Z" fill="#ffd948"/>
<path d="M689.3 286.8 L695.7 294.2 L696.6 293.4 L690.0 286.2Z" fill="#ffd948"/>
<path d="M671.0 265.3 L675.0 269.7 L675.2 269.5 L671.1 265.2Z" fill="#ffce40"/>
<path d="M674.7 269.4 L684.9 280.8 L685.5 280.2 L675.0 269.2Z" fill="#ffe653"/>
<path d="M684.6 280.5 L695.5 292.6 L696.5 291.7 L685.2 279.9Z" fill="#ffe653"/>
<path d="M695.2 292.3 L703.3 301.2 L704.5 300.1 L696.2 291.4Z" fill="#ffd342"/>
<path d="M671.1 265.2 L675.4 269.7 L675.6 269.5 L671.2 265.1Z" fill="#ffce40"/>
<path d="M675.1 269.4 L685.8 280.7 L686.3 280.2 L675.3 269.2Z" fill="#ffe654"/>
<path d="M685.5 280.4 L697.0 292.5 L697.7 291.8 L686.0 280.0Z" fill="#ffe654"/>
<path d="M696.7 292.2 L705.2 301.1 L706.1 300.2 L697.4 291.5Z" fill="#ffdf4e"/>
<path d="M671.2 265.1 L676.7 270.7 L677.0 270.5 L671.3 265.0Z" fill="#ffce40"/>
<path d="M676.4 270.4 L689.0 283.2 L689.6 282.5 L676.7 270.2Z" fill="#ffe654"/>
<path d="M688.7 282.9 L702.1 296.5 L703.1 295.5 L689.3 282.3Z" fill="#ffe04f"/>
<path d="M701.8 296.2 L711.7 306.3 L713.1 305.0 L702.8 295.2Z" fill="#ffd141"/>
<path d="M671.2 265.0 L677.2 270.7 L677.4 270.5 L671.3 264.9Z" fill="#ffce41"/>
<path d="M676.9 270.5 L690.1 283.2 L690.7 282.5 L677.1 270.2Z" fill="#ffde4e"/>
<path d="M689.8 282.9 L703.9 296.5 L704.9 295.5 L690.4 282.3Z" fill="#ffe250"/>
<path d="M703.6 296.3 L714.0 306.3 L715.3 305.0 L704.6 295.2Z" fill="#ffdc4b"/>
<path d="M671.3 264.9 L674.5 267.9 L674.7 267.7 L671.4 264.8Z" fill="#ffce41"/>
<path d="M674.2 267.6 L683.8 276.4 L684.1 276.0 L674.4 267.4Z" fill="#ffe755"/>
<path d="M683.5 276.1 L693.6 285.5 L694.2 284.8 L683.8 275.7Z" fill="#ffe755"/>
<path d="M693.3 285.2 L700.9 292.2 L701.7 291.3 L693.9 284.6Z" fill="#ffc93a"/>
<path d="M671.4 264.9 L676.6 269.5 L676.8 269.2 L671.5 264.8Z" fill="#ffcf42"/>
<path d="M676.3 269.2 L688.7 280.2 L689.1 279.7 L676.5 269.0Z" fill="#ffdb4a"/>
<path d="M688.4 279.9 L701.7 291.6 L702.3 290.8 L688.8 279.4Z" fill="#ffe553"/>
<path d="M701.4 291.4 L711.2 300.0 L712.0 299.0 L702.0 290.6Z" fill="#ffe04f"/>
<path d="M671.5 264.8 L677.8 270.2 L678.0 270.0 L671.5 264.7Z" fill="#ffcf42"/>
<path d="M677.5 269.9 L691.6 281.9 L692.0 281.4 L677.7 269.7Z" fill="#ffe352"/>
<path d="M691.3 281.7 L706.3 294.5 L707.0 293.7 L691.7 281.2Z" fill="#ffe856"/>
<path d="M706.0 294.3 L717.1 303.8 L718.0 302.7 L706.7 293.4Z" fill="#ffdc4b"/>
<path d="M671.5 264.7 L677.1 269.4 L677.4 269.0 L671.6 264.6Z" fill="#ffcf42"/>
<path d="M676.8 269.1 L690.0 279.9 L690.6 279.2 L677.1 268.8Z" fill="#ffe857"/>
<path d="M689.7 279.7 L703.7 291.3 L704.7 290.0 L690.3 278.9Z" fill="#ffe857"/>
<path d="M703.4 291.0 L713.8 299.6 L715.1 298.0 L704.4 289.8Z" fill="#ffe554"/>
<path d="M671.6 264.6 L676.1 268.1 L676.4 267.8 L671.7 264.5Z" fill="#ffcf43"/>
<path d="M675.8 267.9 L687.6 277.0 L688.1 276.3 L676.0 267.6Z" fill="#ffd244"/>
<path d="M687.3 276.8 L699.8 286.5 L700.7 285.3 L687.8 276.0Z" fill="#ffdb4c"/>
<path d="M699.5 286.3 L708.8 293.5 L709.9 292.0 L700.4 285.1Z" fill="#ffd849"/>
<path d="M671.7 264.5 L677.4 268.7 L677.7 268.3 L671.8 264.4Z" fill="#ffd044"/>
<path d="M677.1 268.4 L690.7 278.3 L691.2 277.5 L677.3 268.1Z" fill="#ffea59"/>
<path d="M690.3 278.1 L704.9 288.6 L705.7 287.4 L690.9 277.3Z" fill="#ffea59"/>
<path d="M704.5 288.4 L715.3 296.2 L716.4 294.6 L705.4 287.1Z" fill="#ffd444"/>
<path d="M671.8 264.4 L677.3 268.2 L677.5 267.8 L671.9 264.2Z" fill="#ffd044"/>
<path d="M677.0 267.9 L690.3 277.1 L690.8 276.3 L677.2 267.6Z" fill="#ffea59"/>
<path d="M690.0 276.9 L704.3 286.6 L705.1 285.3 L690.5 276.0Z" fill="#ffe656"/>
<path d="M703.9 286.4 L714.5 293.7 L715.6 292.0 L704.8 285.1Z" fill="#ffcd3e"/>
<path d="M671.9 264.2 L677.7 268.0 L677.9 267.6 L672.0 264.1Z" fill="#ffd144"/>
<path d="M677.4 267.8 L691.3 276.7 L691.8 275.9 L677.6 267.4Z" fill="#ffeb5a"/>
<path d="M691.0 276.5 L705.9 286.0 L706.7 284.7 L691.5 275.7Z" fill="#ffe757"/>
<path d="M705.5 285.8 L716.5 292.9 L717.6 291.2 L706.3 284.5Z" fill="#ffe150"/>
<path d="M671.9 264.1 L679.0 268.3 L679.2 267.9 L672.0 264.0Z" fill="#ffd145"/>
<path d="M678.6 268.1 L694.3 277.5 L694.8 276.6 L678.8 267.8Z" fill="#ffdd4e"/>
<path d="M694.0 277.3 L710.7 287.4 L711.6 285.9 L694.5 276.4Z" fill="#ffeb5b"/>
<path d="M710.4 287.2 L722.8 294.6 L723.9 292.8 L711.2 285.7Z" fill="#ffd849"/>
<path d="M672.0 264.0 L679.3 268.1 L679.5 267.8 L672.1 263.9Z" fill="#ffd146"/>
<path d="M679.0 267.9 L695.1 277.0 L695.5 276.3 L679.1 267.6Z" fill="#ffec5c"/>
<path d="M694.8 276.8 L712.1 286.5 L712.8 285.3 L695.2 276.1Z" fill="#ffd749"/>
<path d="M711.8 286.3 L724.5 293.5 L725.4 292.0 L712.4 285.2Z" fill="#ffe455"/>
<path d="M672.1 263.9 L678.5 267.3 L678.6 267.1 L672.1 263.8Z" fill="#ffd146"/>
<path d="M678.2 267.2 L693.2 275.2 L693.5 274.6 L678.3 266.9Z" fill="#ffec5c"/>
<path d="M692.9 275.0 L709.0 283.6 L709.4 282.7 L693.1 274.4Z" fill="#ffec5c"/>
<path d="M708.6 283.4 L720.5 289.8 L721.1 288.6 L709.1 282.5Z" fill="#ffec5c"/>
<path d="M672.1 263.8 L675.4 265.5 L675.6 265.3 L672.2 263.7Z" fill="#ffd246"/>
<path d="M675.1 265.4 L685.9 270.9 L686.1 270.3 L675.2 265.1Z" fill="#ffd84a"/>
<path d="M685.5 270.7 L697.0 276.6 L697.4 275.7 L685.8 270.1Z" fill="#ffe354"/>
<path d="M696.7 276.4 L705.2 280.8 L705.7 279.6 L697.1 275.5Z" fill="#ffec5c"/>
<path d="M672.2 263.7 L677.4 266.3 L677.5 266.0 L672.2 263.6Z" fill="#ffd247"/>
<path d="M677.1 266.1 L690.6 272.6 L690.9 272.0 L677.2 265.8Z" fill="#ffed5e"/>
<path d="M690.3 272.4 L704.7 279.4 L705.2 278.4 L690.5 271.8Z" fill="#ffe254"/>
<path d="M704.4 279.2 L715.1 284.4 L715.7 283.1 L704.8 278.3Z" fill="#ffe95a"/>
<path d="M672.2 263.6 L678.7 266.6 L678.9 266.2 L672.3 263.5Z" fill="#ffd347"/>
<path d="M678.3 266.4 L693.7 273.4 L694.1 272.5 L678.5 266.0Z" fill="#ffe354"/>
<path d="M693.3 273.2 L709.7 280.7 L710.4 279.2 L693.7 272.3Z" fill="#ffe757"/>
<path d="M709.3 280.5 L721.5 286.1 L722.3 284.1 L710.0 279.0Z" fill="#ffcc3e"/>
<path d="M672.3 263.5 L676.2 265.1 L676.3 265.0 L672.3 263.4Z" fill="#ffd348"/>
<path d="M675.9 265.0 L687.8 270.0 L687.9 269.5 L675.9 264.8Z" fill="#ffe658"/>
<path d="M687.4 269.8 L700.1 275.1 L700.4 274.4 L687.6 269.4Z" fill="#ffee5f"/>
<path d="M699.7 275.0 L709.1 278.9 L709.5 278.0 L700.0 274.3Z" fill="#ffe354"/>
<path d="M672.3 263.4 L678.5 265.9 L678.6 265.6 L672.3 263.3Z" fill="#ffd348"/>
<path d="M678.1 265.7 L693.1 271.7 L693.4 271.0 L678.2 265.4Z" fill="#ffda4c"/>
<path d="M692.7 271.6 L708.8 278.0 L709.2 276.8 L693.0 270.9Z" fill="#ffe051"/>
<path d="M708.4 277.8 L720.3 282.6 L720.8 281.1 L708.8 276.7Z" fill="#ffeb5c"/>
<path d="M672.3 263.3 L677.8 265.3 L677.9 265.0 L672.4 263.1Z" fill="#ffd348"/>
<path d="M677.4 265.2 L691.4 270.4 L691.7 269.6 L677.5 264.9Z" fill="#ffef60"/>
<path d="M691.1 270.3 L706.1 275.9 L706.6 274.6 L691.4 269.5Z" fill="#ffef60"/>
<path d="M705.7 275.8 L716.8 279.9 L717.4 278.2 L706.2 274.5Z" fill="#ffee5f"/>
<path d="M672.4 263.2 L679.9 265.7 L680.0 265.3 L672.4 263.0Z" fill="#ffd449"/>
<path d="M679.5 265.6 L696.4 271.4 L696.8 270.3 L679.6 265.2Z" fill="#fff061"/>
<path d="M696.1 271.2 L714.2 277.4 L714.7 275.7 L696.4 270.2Z" fill="#ffdc4e"/>
<path d="M713.8 277.3 L727.2 281.9 L727.9 279.7 L714.3 275.6Z" fill="#ffe253"/>
<path d="M672.4 263.0 L679.8 265.3 L679.9 265.0 L672.5 262.9Z" fill="#ffd44a"/>
<path d="M679.4 265.2 L696.2 270.3 L696.4 269.6 L679.5 264.9Z" fill="#fff062"/>
<path d="M695.9 270.2 L713.9 275.7 L714.2 274.6 L696.0 269.5Z" fill="#fff062"/>
<path d="M713.5 275.6 L726.8 279.7 L727.2 278.3 L713.8 274.5Z" fill="#ffe053"/>
<path d="M672.5 262.9 L681.3 265.5 L681.4 265.1 L672.5 262.8Z" fill="#ffd54a"/>
<path d="M680.9 265.4 L699.9 270.8 L700.1 270.0 L681.0 265.0Z" fill="#ffe356"/>
<path d="M699.5 270.7 L719.8 276.5 L720.1 275.3 L699.7 269.9Z" fill="#ffd84b"/>
<path d="M719.4 276.4 L734.4 280.7 L734.8 279.1 L719.7 275.2Z" fill="#ffe354"/>
<path d="M672.5 262.8 L680.3 264.9 L680.4 264.6 L672.5 262.7Z" fill="#ffd54a"/>
<path d="M679.9 264.8 L697.5 269.5 L697.7 268.8 L680.0 264.5Z" fill="#ffea5c"/>
<path d="M697.1 269.4 L715.9 274.4 L716.2 273.2 L697.3 268.7Z" fill="#fff163"/>
<path d="M715.5 274.3 L729.4 278.0 L729.7 276.5 L715.8 273.1Z" fill="#ffe052"/>
<path d="M672.5 262.7 L680.5 264.7 L680.6 264.3 L672.5 262.6Z" fill="#ffd54a"/>
<path d="M680.1 264.6 L698.0 269.0 L698.2 268.1 L680.2 264.2Z" fill="#fff163"/>
<path d="M697.6 268.9 L716.7 273.6 L717.0 272.1 L697.8 268.0Z" fill="#ffed5f"/>
<path d="M716.3 273.5 L730.4 277.0 L730.8 275.1 L716.6 272.1Z" fill="#ffee60"/>
<path d="M672.5 262.6 L677.6 263.7 L677.7 263.5 L672.6 262.5Z" fill="#ffd54b"/>
<path d="M677.2 263.7 L691.0 266.7 L691.1 266.1 L677.3 263.4Z" fill="#ffe457"/>
<path d="M690.6 266.6 L705.4 269.9 L705.6 269.0 L690.8 266.1Z" fill="#fff264"/>
<path d="M705.0 269.8 L715.9 272.2 L716.2 271.0 L705.2 268.9Z" fill="#ffef61"/>
<path d="M672.6 262.5 L679.1 263.8 L679.2 263.5 L672.6 262.4Z" fill="#ffce41"/>
<path d="M678.7 263.8 L694.5 266.9 L694.7 266.1 L678.8 263.4Z" fill="#ffdd4c"/>
<path d="M694.1 266.9 L711.1 270.3 L711.4 268.9 L694.3 266.0Z" fill="#ffe755"/>
<path d="M710.7 270.2 L723.2 272.7 L723.6 270.9 L711.0 268.8Z" fill="#ffce3e"/>
<path d="M672.6 262.4 L679.5 263.6 L679.6 263.3 L672.6 262.3Z" fill="#ffc93c"/>
<path d="M679.1 263.5 L695.6 266.4 L695.7 265.6 L679.2 263.2Z" fill="#ffd848"/>
<path d="M695.2 266.3 L712.8 269.4 L713.0 268.2 L695.3 265.6Z" fill="#ffdf4e"/>
<path d="M712.4 269.3 L725.4 271.6 L725.7 270.0 L712.6 268.1Z" fill="#ffd041"/>
<path d="M672.6 262.3 L681.9 263.7 L682.0 263.2 L672.6 262.1Z" fill="#ffc439"/>
<path d="M681.5 263.6 L701.3 266.6 L701.4 265.4 L681.6 263.1Z" fill="#ffd849"/>
<path d="M700.9 266.6 L722.0 269.8 L722.3 267.8 L701.0 265.4Z" fill="#ffd849"/>
<path d="M721.6 269.7 L737.3 272.1 L737.6 269.5 L721.9 267.7Z" fill="#ffd345"/>
<path d="M672.6 262.1 L682.0 263.3 L682.0 262.8 L672.6 262.0Z" fill="#ffbd34"/>
<path d="M681.6 263.2 L701.5 265.6 L701.6 264.4 L681.6 262.7Z" fill="#ffc035"/>
<path d="M701.1 265.5 L722.4 268.1 L722.6 266.2 L701.2 264.4Z" fill="#ffcd41"/>
<path d="M722.0 268.0 L737.7 269.9 L738.0 267.5 L722.2 266.2Z" fill="#ffc438"/>
<path d="M672.6 262.0 L681.1 262.8 L681.1 262.4 L672.6 261.9Z" fill="#ffb72f"/>
<path d="M680.7 262.7 L699.4 264.4 L699.4 263.5 L680.7 262.3Z" fill="#ffc338"/>
<path d="M699.0 264.4 L719.0 266.2 L719.1 264.6 L699.0 263.4Z" fill="#ffba30"/>
<path d="M718.6 266.1 L733.3 267.5 L733.5 265.5 L718.7 264.6Z" fill="#ffc439"/>
<path d="M672.6 261.9 L680.4 262.4 L680.4 261.9 L672.6 261.7Z" fill="#ffb22b"/>
<path d="M680.0 262.4 L697.6 263.5 L697.6 262.4 L680.0 261.9Z" fill="#ffbc33"/>
<path d="M697.2 263.5 L716.0 264.7 L716.1 263.0 L697.2 262.4Z" fill="#ffb62d"/>
<path d="M715.6 264.7 L729.6 265.6 L729.7 263.4 L715.7 263.0Z" fill="#ffb42a"/>
<path d="M672.6 261.7 L680.4 262.0 L680.4 261.7 L672.6 261.6Z" fill="#ffab26"/>
<path d="M680.0 262.0 L697.8 262.6 L697.8 261.9 L680.0 261.7Z" fill="#ffb12c"/>
<path d="M697.4 262.6 L716.3 263.2 L716.3 262.2 L697.4 261.9Z" fill="#ffb12c"/>
<path d="M715.9 263.2 L729.9 263.7 L730.0 262.4 L715.9 262.2Z" fill="#ffb02a"/>
<path d="M672.6 261.6 L679.7 261.8 L679.7 261.4 L672.6 261.5Z" fill="#ffa824"/>
<path d="M679.3 261.8 L696.0 262.1 L696.0 261.2 L679.3 261.4Z" fill="#ffab27"/>
<path d="M695.6 262.1 L713.5 262.4 L713.5 260.9 L695.6 261.2Z" fill="#ffac28"/>
<path d="M713.1 262.4 L726.3 262.6 L726.3 260.8 L713.1 260.9Z" fill="#ffa921"/>
<path d="M672.6 261.5 L679.7 261.5 L679.7 261.2 L672.6 261.4Z" fill="#ffa21f"/>
<path d="M679.3 261.5 L695.9 261.3 L695.9 260.7 L679.3 261.2Z" fill="#ffa420"/>
<path d="M695.5 261.3 L713.4 261.2 L713.4 260.2 L695.5 260.7Z" fill="#ffa320"/>
<path d="M713.0 261.2 L726.2 261.1 L726.1 259.8 L713.0 260.2Z" fill="#ffa41e"/>
<path d="M672.6 261.4 L681.1 261.2 L681.1 260.9 L672.6 261.3Z" fill="#ff9f1d"/>
<path d="M680.7 261.2 L699.4 260.8 L699.3 260.1 L680.7 260.9Z" fill="#ff9e1d"/>
<path d="M699.0 260.8 L718.9 260.3 L718.9 259.1 L698.9 260.1Z" fill="#ff9e1d"/>
<path d="M718.5 260.3 L733.3 259.9 L733.2 258.5 L718.5 259.2Z" fill="#ff9f1c"/>
<path d="M672.6 261.3 L679.7 261.0 L679.7 260.7 L672.6 261.2Z" fill="#ff9b1a"/>
<path d="M679.3 261.1 L696.0 260.4 L696.0 259.5 L679.3 260.7Z" fill="#ff9b1a"/>
<path d="M695.6 260.4 L713.5 259.6 L713.4 258.3 L695.6 259.6Z" fill="#ff9c1a"/>
<path d="M713.1 259.7 L726.3 259.1 L726.2 257.4 L713.0 258.3Z" fill="#ff9819"/>
<path d="M672.6 261.2 L679.8 260.7 L679.8 260.4 L672.6 261.1Z" fill="#ff9616"/>
<path d="M679.4 260.8 L696.4 259.7 L696.3 258.8 L679.4 260.4Z" fill="#ff9013"/>
<path d="M696.0 259.7 L714.0 258.5 L713.9 257.0 L695.9 258.8Z" fill="#ff9013"/>
<path d="M713.6 258.5 L727.0 257.6 L726.9 255.8 L713.5 257.1Z" fill="#ff9214"/>
<path d="M672.6 261.1 L679.9 260.4 L679.9 260.2 L672.6 261.0Z" fill="#ff860c"/>
<path d="M679.5 260.5 L696.5 258.9 L696.4 258.3 L679.5 260.2Z" fill="#ff860c"/>
<path d="M696.1 258.9 L714.3 257.3 L714.2 256.2 L696.0 258.3Z" fill="#ff880d"/>
<path d="M713.9 257.3 L727.3 256.1 L727.2 254.8 L713.8 256.3Z" fill="#ff9412"/>
<path d="M672.6 261.0 L681.0 260.1 L681.0 259.7 L672.6 260.9Z" fill="#ff850c"/>
<path d="M680.6 260.1 L699.1 258.1 L699.0 257.2 L680.6 259.8Z" fill="#ff850c"/>
<path d="M698.7 258.2 L718.6 256.0 L718.4 254.6 L698.6 257.3Z" fill="#ff850c"/>
<path d="M718.2 256.1 L732.8 254.5 L732.6 252.6 L718.0 254.6Z" fill="#ff8f10"/>
<path d="M672.6 260.9 L682.0 259.7 L682.0 259.3 L672.6 260.8Z" fill="#ff830b"/>
<path d="M681.6 259.7 L701.6 257.1 L701.5 256.2 L681.6 259.4Z" fill="#ff830b"/>
<path d="M701.2 257.1 L722.6 254.3 L722.4 253.0 L701.1 256.3Z" fill="#ff830b"/>
<path d="M722.2 254.4 L737.9 252.3 L737.7 250.6 L722.0 253.0Z" fill="#ff860c"/>
<path d="M672.6 260.8 L680.7 259.6 L680.7 259.2 L672.6 260.7Z" fill="#ff810b"/>
<path d="M680.3 259.6 L698.5 256.9 L698.4 256.0 L680.3 259.3Z" fill="#ff810b"/>
<path d="M698.1 256.9 L717.6 254.0 L717.3 252.5 L698.0 256.0Z" fill="#ff810b"/>
<path d="M717.2 254.0 L731.5 251.9 L731.2 250.0 L716.9 252.6Z" fill="#ff9011"/>
<path d="M672.6 260.7 L679.2 259.5 L679.2 259.2 L672.6 260.6Z" fill="#ff7f0a"/>
<path d="M678.8 259.6 L694.9 256.7 L694.8 256.1 L678.8 259.3Z" fill="#ff880e"/>
<path d="M694.5 256.8 L711.7 253.8 L711.5 252.7 L694.4 256.2Z" fill="#ff7f0a"/>
<path d="M711.3 253.9 L724.0 251.6 L723.7 250.2 L711.1 252.8Z" fill="#ff8c0f"/>
<path d="M672.6 260.6 L680.9 259.0 L680.8 258.6 L672.5 260.4Z" fill="#ff7d0a"/>
<path d="M680.5 259.0 L698.9 255.4 L698.7 254.5 L680.4 258.7Z" fill="#ff800b"/>
<path d="M698.5 255.5 L718.2 251.6 L717.9 250.2 L698.3 254.6Z" fill="#ff870e"/>
<path d="M717.8 251.7 L732.3 248.9 L731.9 247.0 L717.5 250.2Z" fill="#ff8c10"/>
<path d="M672.5 260.5 L681.0 258.6 L680.9 258.2 L672.5 260.3Z" fill="#ff7b0a"/>
<path d="M680.6 258.7 L699.2 254.6 L698.9 253.6 L680.5 258.3Z" fill="#ff7b0a"/>
<path d="M698.8 254.7 L718.6 250.3 L718.3 248.8 L698.6 253.7Z" fill="#ff7b0a"/>
<path d="M718.2 250.3 L732.9 247.1 L732.4 245.2 L717.9 248.9Z" fill="#ff850e"/>
<path d="M672.5 260.4 L677.6 259.1 L677.6 258.9 L672.5 260.2Z" fill="#ff7809"/>
<path d="M677.2 259.2 L691.0 255.8 L690.9 255.2 L677.2 259.0Z" fill="#ff7809"/>
<path d="M690.6 255.9 L705.4 252.2 L705.2 251.4 L690.5 255.3Z" fill="#ff7809"/>
<path d="M705.0 252.3 L716.0 249.6 L715.7 248.5 L704.8 251.5Z" fill="#ff810c"/>
<path d="M672.5 260.3 L679.9 258.3 L679.8 257.9 L672.4 260.1Z" fill="#ff7709"/>
<path d="M679.5 258.4 L696.5 253.9 L696.2 252.9 L679.4 258.0Z" fill="#ff7709"/>
<path d="M696.1 254.0 L714.3 249.1 L713.9 247.6 L695.9 253.1Z" fill="#ff7809"/>
<path d="M713.9 249.2 L727.4 245.7 L726.8 243.7 L713.5 247.7Z" fill="#ff880f"/>
<path d="M672.4 260.1 L679.1 258.2 L679.0 257.9 L672.4 260.0Z" fill="#ff7409"/>
<path d="M678.7 258.3 L694.6 253.6 L694.3 252.8 L678.6 258.0Z" fill="#ff840f"/>
<path d="M694.2 253.7 L711.1 248.7 L710.8 247.5 L693.9 253.0Z" fill="#ff7409"/>
<path d="M710.8 248.8 L723.3 245.1 L722.8 243.6 L710.4 247.6Z" fill="#ff7d0c"/>
<path d="M672.4 260.0 L680.2 257.5 L680.1 257.1 L672.4 259.9Z" fill="#ff7208"/>
<path d="M679.8 257.7 L697.2 252.1 L696.9 251.0 L679.7 257.2Z" fill="#ff840f"/>
<path d="M696.9 252.2 L715.5 246.2 L714.9 244.5 L696.5 251.2Z" fill="#ff7308"/>
<path d="M715.1 246.3 L728.9 241.9 L728.2 239.8 L714.6 244.7Z" fill="#ff7e0c"/>
<path d="M672.4 259.9 L679.6 257.3 L679.5 256.9 L672.3 259.7Z" fill="#ff6f08"/>
<path d="M679.2 257.4 L695.8 251.6 L695.5 250.7 L679.1 257.1Z" fill="#ff6f08"/>
<path d="M695.5 251.7 L713.2 245.4 L712.7 244.0 L695.1 250.8Z" fill="#ff6f08"/>
<path d="M712.8 245.5 L726.0 240.9 L725.3 239.0 L712.3 244.1Z" fill="#ff780b"/>
<path d="M672.3 259.8 L677.6 257.7 L677.5 257.4 L672.3 259.6Z" fill="#ff6d07"/>
<path d="M677.2 257.9 L691.0 252.6 L690.7 251.9 L677.1 257.6Z" fill="#ff7008"/>
<path d="M690.6 252.7 L705.4 247.0 L704.9 245.9 L690.3 252.0Z" fill="#ff750a"/>
<path d="M705.0 247.2 L715.9 243.0 L715.3 241.6 L704.5 246.1Z" fill="#ff800d"/>
<path d="M672.3 259.6 L676.2 258.0 L676.1 257.8 L672.2 259.5Z" fill="#ff6a07"/>
<path d="M675.8 258.2 L687.6 253.3 L687.5 252.8 L675.7 258.0Z" fill="#ff6a07"/>
<path d="M687.3 253.4 L699.9 248.2 L699.6 247.5 L687.1 253.0Z" fill="#ff6a07"/>
<path d="M699.5 248.4 L708.9 244.5 L708.5 243.6 L699.2 247.7Z" fill="#ff6d08"/>
<path d="M672.2 259.6 L675.8 258.0 L675.7 257.7 L672.2 259.4Z" fill="#ff6906"/>
<path d="M675.5 258.2 L686.8 253.3 L686.5 252.7 L675.4 257.9Z" fill="#ff7b0d"/>
<path d="M686.4 253.4 L698.5 248.2 L698.1 247.2 L686.1 252.8Z" fill="#ff6906"/>
<path d="M698.1 248.3 L707.1 244.4 L706.5 243.2 L697.7 247.4Z" fill="#ff840f"/>
<path d="M672.2 259.4 L675.8 257.8 L675.6 257.5 L672.1 259.3Z" fill="#ff6606"/>
<path d="M675.4 257.9 L686.6 252.7 L686.3 252.1 L675.3 257.7Z" fill="#ff6606"/>
<path d="M686.3 252.9 L698.3 247.3 L697.8 246.4 L686.0 252.3Z" fill="#ff770c"/>
<path d="M697.9 247.5 L706.8 243.3 L706.2 242.1 L697.4 246.5Z" fill="#ff7109"/>
<path d="M672.1 259.3 L675.4 257.7 L675.3 257.5 L672.1 259.2Z" fill="#ff6406"/>
<path d="M675.1 257.9 L685.8 252.5 L685.6 252.1 L675.0 257.7Z" fill="#ff6707"/>
<path d="M685.5 252.7 L697.0 247.0 L696.6 246.3 L685.3 252.3Z" fill="#ff6a08"/>
<path d="M696.6 247.1 L705.1 242.9 L704.7 242.1 L696.3 246.5Z" fill="#ff7a0c"/>
<path d="M672.1 259.2 L674.4 258.1 L674.3 257.8 L672.0 259.1Z" fill="#ff6205"/>
<path d="M674.0 258.2 L683.3 253.4 L683.1 252.9 L673.9 258.0Z" fill="#ff6c08"/>
<path d="M683.0 253.6 L692.9 248.5 L692.5 247.6 L682.7 253.1Z" fill="#ff6406"/>
<path d="M692.6 248.6 L699.9 244.8 L699.4 243.8 L692.1 247.8Z" fill="#ff7f0e"/>
<path d="M672.0 259.1 L674.1 258.0 L674.0 257.8 L672.0 259.0Z" fill="#ff6005"/>
<path d="M673.8 258.2 L682.7 253.2 L682.5 252.8 L673.7 258.0Z" fill="#ff6005"/>
<path d="M682.3 253.4 L691.9 248.2 L691.5 247.5 L682.1 253.0Z" fill="#ff6005"/>
<path d="M691.5 248.3 L698.6 244.4 L698.1 243.6 L691.2 247.7Z" fill="#ff780c"/>
<path d="M672.0 259.0 L674.9 257.3 L674.7 257.1 L671.9 258.9Z" fill="#ff5e04"/>
<path d="M674.5 257.5 L684.5 251.7 L684.2 251.2 L674.4 257.3Z" fill="#ff5f04"/>
<path d="M684.1 251.9 L694.8 245.7 L694.3 244.9 L683.8 251.5Z" fill="#ff5e04"/>
<path d="M694.5 245.9 L702.4 241.3 L701.7 240.3 L694.0 245.1Z" fill="#ff6305"/>
<path d="M671.9 258.9 L673.5 257.9 L673.4 257.8 L671.8 258.8Z" fill="#ff5b04"/>
<path d="M673.2 258.2 L681.2 253.2 L681.0 252.8 L673.1 258.0Z" fill="#ff5b04"/>
<path d="M680.9 253.4 L689.5 248.1 L689.1 247.4 L680.6 253.0Z" fill="#ff5b04"/>
<path d="M689.2 248.3 L695.6 244.3 L695.0 243.5 L688.7 247.6Z" fill="#ff5c04"/>
<path d="M671.8 258.8 L673.6 257.7 L673.5 257.5 L671.7 258.7Z" fill="#ff5904"/>
<path d="M673.3 257.9 L681.5 252.5 L681.1 252.0 L673.1 257.7Z" fill="#ff5904"/>
<path d="M681.1 252.8 L689.9 247.0 L689.4 246.2 L680.8 252.3Z" fill="#ff6909"/>
<path d="M689.6 247.3 L696.1 243.0 L695.4 242.0 L689.0 246.5Z" fill="#ff6f0a"/>
<path d="M671.8 258.7 L673.3 257.6 L673.2 257.4 L671.7 258.6Z" fill="#ff5603"/>
<path d="M673.0 257.9 L680.7 252.5 L680.4 252.0 L672.8 257.7Z" fill="#ff5603"/>
<path d="M680.4 252.7 L688.7 246.9 L688.2 246.2 L680.1 252.3Z" fill="#ff5603"/>
<path d="M688.3 247.1 L694.5 242.9 L693.9 242.0 L687.9 246.5Z" fill="#ff5603"/>
<path d="M671.7 258.6 L673.3 257.4 L673.1 257.2 L671.6 258.5Z" fill="#ff5403"/>
<path d="M672.9 257.6 L680.7 252.0 L680.4 251.6 L672.8 257.5Z" fill="#ff5403"/>
<path d="M680.3 252.2 L688.6 246.1 L688.1 245.5 L680.0 251.8Z" fill="#ff5403"/>
<path d="M688.3 246.3 L694.4 241.8 L693.8 241.0 L687.8 245.7Z" fill="#ff6b09"/>
<path d="M671.6 258.5 L672.1 258.1 L672.0 258.0 L671.5 258.4Z" fill="#ff5102"/>
<path d="M671.8 258.3 L677.9 253.6 L677.7 253.4 L671.7 258.3Z" fill="#ff6107"/>
<path d="M677.5 253.9 L684.0 248.8 L683.8 248.4 L677.4 253.6Z" fill="#ff5102"/>
<path d="M683.7 249.0 L688.6 245.3 L688.2 244.8 L683.5 248.7Z" fill="#ff5102"/>
<path d="M671.5 258.4 L671.9 258.1 L671.8 258.0 L671.5 258.3Z" fill="#ff5002"/>
<path d="M671.6 258.4 L677.4 253.7 L677.2 253.5 L671.5 258.3Z" fill="#ff5504"/>
<path d="M677.0 254.0 L683.2 249.0 L682.9 248.6 L676.9 253.8Z" fill="#ff5002"/>
<path d="M682.9 249.3 L687.5 245.6 L687.1 245.1 L682.6 248.9Z" fill="#ff5002"/>
<path d="M671.5 258.3 L671.9 258.0 L671.8 257.8 L671.4 258.2Z" fill="#ff4e01"/>
<path d="M671.6 258.2 L677.4 253.4 L677.1 253.0 L671.5 258.1Z" fill="#ff4e01"/>
<path d="M677.1 253.6 L683.4 248.4 L682.9 247.9 L676.8 253.3Z" fill="#ff6608"/>
<path d="M683.0 248.7 L687.7 244.8 L687.1 244.1 L682.6 248.1Z" fill="#ff760c"/>
<path d="M671.4 258.2 L671.8 257.9 L671.7 257.8 L671.3 258.1Z" fill="#ff4b01"/>
<path d="M671.5 258.1 L677.1 253.1 L677.0 252.9 L671.4 258.1Z" fill="#ff5003"/>
<path d="M676.9 253.4 L682.9 248.0 L682.6 247.7 L676.7 253.2Z" fill="#ff4b01"/>
<path d="M682.6 248.3 L687.1 244.2 L686.7 243.8 L682.3 247.9Z" fill="#ff5a05"/>
<path d="M671.3 258.2 L670.8 258.7 L670.7 258.6 L671.2 258.0Z" fill="#ff4a01"/>
<path d="M670.5 258.9 L674.8 255.0 L674.6 254.8 L670.4 258.8Z" fill="#ff4a01"/>
<path d="M674.5 255.3 L679.0 251.1 L678.7 250.7 L674.3 255.0Z" fill="#ff4a01"/>
<path d="M678.8 251.3 L682.2 248.2 L681.7 247.7 L678.4 251.0Z" fill="#ff5905"/>
<path d="M671.2 258.1 L671.5 257.9 L671.4 257.8 L671.2 258.0Z" fill="#ff4700"/>
<path d="M671.2 258.1 L676.4 253.1 L676.2 252.9 L671.1 258.1Z" fill="#ff4700"/>
<path d="M676.1 253.4 L681.6 248.0 L681.4 247.7 L675.9 253.2Z" fill="#ff4700"/>
<path d="M681.4 248.2 L685.5 244.2 L685.1 243.8 L681.1 247.9Z" fill="#ff6d0a"/>
<path d="M671.2 258.0 L671.0 258.2 L670.9 258.1 L671.1 257.9Z" fill="#ff4600"/>
<path d="M670.7 258.5 L675.3 253.9 L675.1 253.7 L670.6 258.4Z" fill="#ff4600"/>
<path d="M675.0 254.2 L679.9 249.3 L679.5 249.0 L674.8 254.0Z" fill="#ff6108"/>
<path d="M679.6 249.6 L683.2 245.9 L682.8 245.5 L679.3 249.3Z" fill="#ff5d06"/>
<path d="M671.1 257.9 L670.5 258.5 L670.4 258.5 L671.0 257.8Z" fill="#ff4600"/>
<path d="M670.3 258.8 L674.2 254.7 L674.0 254.5 L670.2 258.8Z" fill="#ff4600"/>
<path d="M673.9 255.0 L678.1 250.6 L677.8 250.4 L673.7 254.8Z" fill="#ff4600"/>
<path d="M677.8 250.9 L680.9 247.6 L680.6 247.3 L677.5 250.7Z" fill="#ff4600"/>
<path d="M671.0 257.9 L670.0 258.9 L669.9 258.9 L670.9 257.7Z" fill="#ff4600"/>
<path d="M669.8 259.2 L673.0 255.7 L672.8 255.5 L669.7 259.2Z" fill="#ff4600"/>
<path d="M672.7 256.0 L676.2 252.2 L675.8 252.0 L672.5 255.8Z" fill="#ff4901"/>
<path d="M675.9 252.5 L678.5 249.7 L678.1 249.3 L675.6 252.3Z" fill="#ff6909"/>
<path d="M670.9 257.8 L670.0 258.9 L669.9 258.8 L670.8 257.7Z" fill="#ff4600"/>
<path d="M669.7 259.2 L672.8 255.6 L672.6 255.4 L669.6 259.1Z" fill="#ff4600"/>
<path d="M672.6 255.9 L675.9 252.0 L675.6 251.8 L672.4 255.7Z" fill="#ff4600"/>
<path d="M675.6 252.3 L678.1 249.4 L677.8 249.1 L675.3 252.1Z" fill="#ff4d02"/>
<path d="M670.8 257.7 L669.9 258.9 L669.8 258.8 L670.7 257.6Z" fill="#ff4600"/>
<path d="M669.6 259.2 L672.6 255.5 L672.4 255.4 L669.5 259.1Z" fill="#ff4600"/>
<path d="M672.3 255.8 L675.5 252.0 L675.2 251.8 L672.2 255.7Z" fill="#ff4600"/>
<path d="M675.3 252.3 L677.7 249.3 L677.3 249.1 L675.0 252.1Z" fill="#ff4d02"/>
<path d="M670.7 257.6 L669.7 259.0 L669.6 258.9 L670.6 257.5Z" fill="#ff4600"/>
<path d="M669.4 259.3 L672.1 255.8 L671.9 255.7 L669.3 259.2Z" fill="#ff670a"/>
<path d="M671.9 256.1 L674.8 252.4 L674.5 252.2 L671.7 256.0Z" fill="#ff4c02"/>
<path d="M674.6 252.7 L676.7 249.9 L676.3 249.6 L674.2 252.5Z" fill="#ff5805"/>
<path d="M670.6 257.5 L669.2 259.4 L669.2 259.3 L670.5 257.4Z" fill="#ff4600"/>
<path d="M669.0 259.7 L671.1 256.8 L670.9 256.7 L668.9 259.7Z" fill="#ff4700"/>
<path d="M670.9 257.2 L673.1 254.1 L672.9 253.9 L670.7 257.0Z" fill="#ff4600"/>
<path d="M672.9 254.4 L674.6 252.1 L674.3 251.8 L672.6 254.2Z" fill="#ff6709"/>
<path d="M670.5 257.4 L668.5 260.3 L668.5 260.3 L670.4 257.4Z" fill="#ff4600"/>
<path d="M668.3 260.6 L669.5 258.9 L669.4 258.9 L668.3 260.6Z" fill="#ff5605"/>
<path d="M669.2 259.2 L670.5 257.5 L670.4 257.4 L669.2 259.2Z" fill="#ff5805"/>
<path d="M670.2 257.8 L671.2 256.4 L671.1 256.4 L670.2 257.8Z" fill="#ff4600"/>
<path d="M689.5 237.3 L692.5 235.8 L695.2 241.8 L693.1 245.3 L690.8 242.6Z" fill="#ff2a00"/>
<path d="M620.4 264.1 L636.8 263.4 L651.5 262.8 L647.8 267.6 L643.2 272.2 L636.8 276.0 L630.3 277.0 L629.2 271.7 L626.2 270.3 L623.0 274.2 L621.0 270.8Z" fill="#0a2ad8"/>
<path d="M627.6 266.7 L638.6 265.0 L650.1 263.5 L646.4 269.2 L641.4 273.1 L636.3 275.7 L631.7 276.0 L630.8 271.3 L628.0 269.2Z" fill="#04088c"/>
<path d="M651.5 263.0 L663.4 263.7 L655.2 269.4 L646.0 275.9 L636.8 281.4 L627.6 286.0 L624.1 283.2 L623.0 280.5 L630.3 277.0 L636.8 276.0 L643.2 272.2 L647.8 267.6Z" fill="#ff3300"/>
<path d="M626.7 270.3 L629.9 271.7 L629.4 275.4 L623.9 274.9 L623.4 273.6Z" fill="#ff3300"/>
<path d="M619.8 266.2 L624.1 266.7 L624.1 267.6 L619.8 267.4Z" fill="#fff"/>
<path d="M620.7 271.7 L623.0 272.4 L620.7 273.1Z" fill="#fff"/>
<path d="M622.1 281.8 L626.2 279.5 L624.8 281.6Z" fill="#fff"/>
<path d="M623.0 284.1 L626.7 283.2 L624.8 285.2Z" fill="#fff"/>
<line x1="610.1" y1="265.6" x2="612.9" y2="265.0" stroke="#1535d8" stroke-width="1"/>
<line x1="616.1" y1="269.4" x2="619.8" y2="269.4" stroke="#1535d8" stroke-width="1"/>
<line x1="609.2" y1="271.5" x2="609.9" y2="271.5" stroke="#1535d8" stroke-width="1"/>
<line x1="612.4" y1="284.0" x2="620.7" y2="281.4" stroke="#1535d8" stroke-width="1"/>
<line x1="616.1" y1="284.7" x2="619.8" y2="283.4" stroke="#1535d8" stroke-width="1"/>
<path d="M660.9 259.1 L662.9 259.1 L662.9 261.6 L661.4 261.3Z" fill="#04085a"/>
<line x1="658.4" y1="257.6" x2="656.4" y2="256.8" stroke="#1030c0" stroke-width="1"/>
<line x1="653.8" y1="255.7" x2="651.8" y2="254.8" stroke="#1030c0" stroke-width="1"/>
<line x1="649.2" y1="253.7" x2="647.2" y2="252.9" stroke="#1030c0" stroke-width="1"/>
<line x1="644.6" y1="251.8" x2="642.6" y2="250.9" stroke="#1030c0" stroke-width="1"/>
<line x1="640.0" y1="249.8" x2="638.0" y2="249.0" stroke="#1030c0" stroke-width="1"/>
<line x1="635.4" y1="247.9" x2="633.4" y2="247.0" stroke="#1030c0" stroke-width="1"/>
<line x1="630.8" y1="245.9" x2="628.8" y2="245.1" stroke="#1030c0" stroke-width="1"/>
<line x1="626.2" y1="244.0" x2="624.2" y2="243.1" stroke="#1030c0" stroke-width="1"/>
<line x1="621.6" y1="242.0" x2="619.6" y2="241.2" stroke="#1030c0" stroke-width="1"/>
<line x1="617.0" y1="240.1" x2="615.0" y2="239.2" stroke="#1030c0" stroke-width="1"/>
<path d="M660.3 278.0 L663.9 279.7 L668.7 287.8 L674.6 295.9 L680.9 305.7 L686.6 313.4 L684.5 314.1 L677.7 305.7 L672.0 295.9 L666.6 288.7 L661.6 281.9Z" fill="#ff1800"/>
<path d="M659.1 281.2 L661.6 281.9 L666.6 288.7 L672.0 295.9 L677.7 305.7 L684.5 312.9 L686.6 315.5 L683.1 315.9 L677.7 309.3 L671.1 298.5 L665.7 290.5 L660.9 285.1Z" fill="#0a0a5a"/>
<path d="M505.8 276.1 L510.0 276.1 L510.9 282.2 L509.3 289.2 L510.9 298.6 L512.2 304.9 L515.9 306.5 L515.3 308.7 L511.5 307.5 L509.0 302.4 L507.7 296.1 L505.8 291.1 L507.1 283.5Z" fill="#f00000"/>
<path d="M530.5 306.2 L533.6 306.0 L536.8 310.6 L536.2 315.1 L533.0 316.1 L533.6 311.3 L531.7 308.1Z" fill="#f00000"/>
<path d="M509.0 327.2 L512.8 326.9 L516.6 329.7 L520.4 330.9 L521.6 336.6 L523.5 340.4 L521.0 341.7 L518.5 337.9 L516.6 333.5 L512.2 330.3Z" fill="#f00000"/>
<path d="M528.6 337.6 L531.1 337.9 L534.9 339.2 L538.7 346.1 L538.1 347.7 L533.6 347.4 L531.1 347.7 L529.8 341.7Z" fill="#f00000"/>
<path d="M628.1 316.4 L629.9 315.9 L629.4 319.1 L627.9 319.1Z" fill="#f00000"/>
<path d="M688.4 320.2 L690.3 320.0 L691.8 323.4 L690.3 324.0Z" fill="#f00000"/>
<path d="M696.0 332.8 L699.2 329.1 L702.3 326.3 L704.5 330.3 L701.7 333.1 L698.5 335.4 L696.6 335.1Z" fill="#f00000"/>
<path d="M707.4 342.9 L709.3 337.9 L711.8 337.3 L714.9 340.4 L717.5 343.6 L713.1 342.3 L710.5 345.5 L709.9 351.8 L708.6 350.5 L706.7 346.7Z" fill="#f00000"/>
<path d="M708.0 354.9 L709.9 354.3 L710.5 361.3 L708.6 360.6 L707.4 357.5Z" fill="#f00000"/>
<path d="M721.3 348.0 L724.4 348.3 L727.6 352.4 L725.7 354.3 L723.2 351.8Z" fill="#f00000"/>
<path d="M732.0 347.4 L735.8 346.1 L738.3 347.4 L742.7 344.2 L745.9 344.2 L748.7 347.4 L744.6 351.8 L742.1 352.4 L740.8 349.9 L737.0 352.4 L735.8 356.8 L735.2 362.5 L732.6 359.4 L730.5 355.6 L732.6 353.1Z" fill="#f00000"/>
<path d="M687.4 320.2 L689.1 319.8 L690.9 323.1 L689.5 323.4Z" fill="#f00000"/>
<path d="M505.0 277.2 L507.1 277.8 L507.1 283.5 L505.8 291.1 L507.7 296.1 L509.0 302.4 L510.3 306.2 L509.0 307.5 L505.8 299.9 L503.9 294.2 L503.1 289.2 L504.2 285.4Z" fill="#0a0a5a"/>
<path d="M530.2 308.1 L532.4 308.7 L533.6 311.9 L533.0 315.7 L531.1 316.3 L530.2 312.5Z" fill="#0a0a5a"/>
<path d="M515.3 331.6 L518.1 333.1 L519.1 337.9 L517.2 335.4Z" fill="#0a0a5a"/>
<path d="M527.9 338.5 L529.5 339.2 L531.5 347.0 L532.7 347.7 L530.7 348.0Z" fill="#0a0a5a"/>
<path d="M689.7 322.7 L691.6 323.0 L693.1 325.5 L690.9 325.9Z" fill="#0a0a5a"/>
<path d="M697.0 335.7 L698.5 336.0 L698.9 338.5 L697.6 337.9Z" fill="#0a0a5a"/>
<path d="M711.2 342.3 L714.3 341.1 L716.5 342.9 L712.4 344.2 L711.5 348.6 L709.9 349.9 L709.9 345.5Z" fill="#0a0a5a"/>
<path d="M709.5 359.1 L710.8 359.4 L710.8 361.6 L709.5 361.4Z" fill="#0a0a5a"/>
<path d="M724.4 351.2 L726.9 351.8 L727.8 354.3 L724.4 354.6Z" fill="#0a0a5a"/>
<path d="M735.8 349.9 L738.9 348.6 L740.8 349.9 L737.0 352.4 L735.8 355.6 L735.2 351.8Z" fill="#0a0a5a"/>
<path d="M742.1 348.6 L746.5 346.1 L747.8 348.0 L744.4 352.0 L742.1 352.4Z" fill="#0a0a5a"/>
<path d="M734.3 360.4 L735.8 360.6 L735.5 362.8 L734.3 362.1Z" fill="#0a0a5a"/>
<path d="M688.1 320.6 L690.2 320.2 L693.1 325.4 L691.3 325.9Z" fill="#0a0a5a"/>
<line x1="520.1" y1="322.6" x2="527.9" y2="318.2" stroke="#a01040" stroke-width="0.9"/>
<circle cx="667.6" cy="261.6" r="4.6" fill="#fff"/>
<path d="M519.7 75.8 L516.7 79.7 L513.8 82.5 L512.2 85.0 L513.0 90.0 L512.7 95.8 L515.5 98.3 L518.8 105.0 L522.2 110.3 L526.3 111.2 L529.3 111.3 L532.2 109.2 L534.7 108.7 L537.2 108.0 L541.3 106.3 L543.3 102.5 L543.8 99.7 L546.3 98.7 L549.3 97.0 L550.0 94.2 L551.3 90.8 L555.0 89.7 L554.3 86.7 L555.0 83.3 L553.8 78.3 L553.3 75.8 M507.7 85.0 L509.3 85.8 M478.5 179.2 L490.5 179.2 L492.7 177.5 L493.8 174.2 L496.0 173.3 L503.0 176.7 L508.8 181.3 L516.3 179.2 L526.3 175.3 L534.7 170.8 L543.0 165.3 L548.0 162.0 L549.3 155.0 L550.8 154.2 L551.3 149.7 L553.8 146.7 L551.3 144.7 L548.8 144.7 L546.0 142.0 L548.8 139.7 L549.7 136.7 L552.2 134.7 L574.7 133.0 L575.5 145.8 L578.0 146.3 L583.0 145.8 L583.8 135.8 L586.3 134.7 L589.3 131.7 L590.0 133.7 L593.0 135.3 L599.7 136.3 L606.3 138.7 L611.3 137.3 L618.0 138.0 L616.7 137.5 L623.3 139.2 L626.7 142.5 L631.7 143.0 L635.0 140.0 L637.5 141.7 L640.8 141.3 L645.0 137.5 L649.2 138.3 L652.5 135.8 L655.8 133.7 L659.2 135.8 L665.0 130.8 L660.0 130.0 L666.7 125.8 L670.8 125.3 L674.2 126.3 L676.7 124.2 L680.0 122.0 L682.0 123.3 L680.0 127.0 L676.7 127.5 L678.7 128.0 L682.0 125.3 L684.2 122.5 L684.5 116.7 L691.7 116.3 L692.5 120.8 L696.7 120.0 L698.0 122.0 L692.3 117.4 L692.8 120.2 L695.1 120.8 L697.6 120.0 L698.2 122.5 L701.1 123.0 L702.6 130.3 L704.1 133.5 L703.6 137.6 L700.7 137.6 L698.8 136.6 L696.1 137.3 L698.8 145.7 L706.2 144.0 L705.4 140.7 L707.7 141.1 L710.8 145.2 L715.3 142.9 L713.4 137.9 L715.0 137.3 L716.5 141.4 L726.9 136.6 L723.5 129.3 L715.9 132.2 L708.7 129.3 L714.6 126.3 L708.7 109.5 L719.7 104.4 L729.2 123.1 L733.6 122.5 L734.2 125.6 L728.5 128.2 L730.2 132.3 L740.3 127.3 L734.2 116.4 L734.2 116.5 L737.0 115.2 L740.3 116.8 L740.0 120.0 L745.6 115.8 L744.1 112.2 L732.9 102.3 L739.3 96.0 L753.8 108.0 L759.2 101.3 L756.3 98.8 L753.2 102.3 L741.5 90.3 L744.3 81.5 L751.3 78.9 L772.7 85.3 L773.4 75.8 M668.8 113.0 L670.8 117.5 M767.3 76.4 L768.9 79.6 L770.8 77.1" fill="none" stroke="#000" stroke-width="1.3" stroke-linejoin="round" stroke-linecap="round"/>
</g>
<rect x="58.5" y="74.2" width="374.8" height="374.5" fill="none" stroke="#000" stroke-width="1.6"/>
<path d="M70.2 74.2V66.9 M70.2 448.7V456.0 M58.5 85.9H51.2 M433.3 85.9H440.6 M81.9 74.2V66.9 M81.9 448.7V456.0 M58.5 97.6H51.2 M433.3 97.6H440.6 M93.6 74.2V66.9 M93.6 448.7V456.0 M58.5 109.3H51.2 M433.3 109.3H440.6 M105.3 74.2V66.9 M105.3 448.7V456.0 M58.5 121.0H51.2 M433.3 121.0H440.6 M117.0 74.2V66.9 M117.0 448.7V456.0 M58.5 132.7H51.2 M433.3 132.7H440.6 M128.8 74.2V66.9 M128.8 448.7V456.0 M58.5 144.5H51.2 M433.3 144.5H440.6 M140.5 74.2V66.9 M140.5 448.7V456.0 M58.5 156.2H51.2 M433.3 156.2H440.6 M163.9 74.2V66.9 M163.9 448.7V456.0 M58.5 179.6H51.2 M433.3 179.6H440.6 M175.6 74.2V66.9 M175.6 448.7V456.0 M58.5 191.3H51.2 M433.3 191.3H440.6 M187.3 74.2V66.9 M187.3 448.7V456.0 M58.5 203.0H51.2 M433.3 203.0H440.6 M199.0 74.2V66.9 M199.0 448.7V456.0 M58.5 214.7H51.2 M433.3 214.7H440.6 M210.7 74.2V66.9 M210.7 448.7V456.0 M58.5 226.4H51.2 M433.3 226.4H440.6 M222.4 74.2V66.9 M222.4 448.7V456.0 M58.5 238.1H51.2 M433.3 238.1H440.6 M234.1 74.2V66.9 M234.1 448.7V456.0 M58.5 249.8H51.2 M433.3 249.8H440.6 M257.6 74.2V66.9 M257.6 448.7V456.0 M58.5 273.3H51.2 M433.3 273.3H440.6 M269.3 74.2V66.9 M269.3 448.7V456.0 M58.5 285.0H51.2 M433.3 285.0H440.6 M281.0 74.2V66.9 M281.0 448.7V456.0 M58.5 296.7H51.2 M433.3 296.7H440.6 M292.7 74.2V66.9 M292.7 448.7V456.0 M58.5 308.4H51.2 M433.3 308.4H440.6 M304.4 74.2V66.9 M304.4 448.7V456.0 M58.5 320.1H51.2 M433.3 320.1H440.6 M316.1 74.2V66.9 M316.1 448.7V456.0 M58.5 331.8H51.2 M433.3 331.8H440.6 M327.8 74.2V66.9 M327.8 448.7V456.0 M58.5 343.5H51.2 M433.3 343.5H440.6 M351.2 74.2V66.9 M351.2 448.7V456.0 M58.5 366.9H51.2 M433.3 366.9H440.6 M362.9 74.2V66.9 M362.9 448.7V456.0 M58.5 378.6H51.2 M433.3 378.6H440.6 M374.7 74.2V66.9 M374.7 448.7V456.0 M58.5 390.4H51.2 M433.3 390.4H440.6 M386.4 74.2V66.9 M386.4 448.7V456.0 M58.5 402.1H51.2 M433.3 402.1H440.6 M398.1 74.2V66.9 M398.1 448.7V456.0 M58.5 413.8H51.2 M433.3 413.8H440.6 M409.8 74.2V66.9 M409.8 448.7V456.0 M58.5 425.5H51.2 M433.3 425.5H440.6 M421.5 74.2V66.9 M421.5 448.7V456.0 M58.5 437.2H51.2 M433.3 437.2H440.6" stroke="#000" stroke-width="1.25" fill="none"/>
<path d="M58.5 74.2V59.9 M58.5 448.7V463.0 M58.5 74.2H44.2 M433.3 74.2H447.6 M152.2 74.2V59.9 M152.2 448.7V463.0 M58.5 167.9H44.2 M433.3 167.9H447.6 M245.8 74.2V59.9 M245.8 448.7V463.0 M58.5 261.6H44.2 M433.3 261.6H447.6 M339.5 74.2V59.9 M339.5 448.7V463.0 M58.5 355.2H44.2 M433.3 355.2H447.6 M433.2 74.2V59.9 M433.2 448.7V463.0 M58.5 448.9H44.2 M433.3 448.9H447.6" stroke="#000" stroke-width="1.75" fill="none"/>
<rect x="480.3" y="74.2" width="374.7" height="374.5" fill="none" stroke="#000" stroke-width="1.6"/>
<path d="M492.0 74.2V66.9 M492.0 448.7V456.0 M480.3 85.9H473.0 M855.0 85.9H862.3 M503.7 74.2V66.9 M503.7 448.7V456.0 M480.3 97.6H473.0 M855.0 97.6H862.3 M515.4 74.2V66.9 M515.4 448.7V456.0 M480.3 109.3H473.0 M855.0 109.3H862.3 M527.1 74.2V66.9 M527.1 448.7V456.0 M480.3 121.0H473.0 M855.0 121.0H862.3 M538.8 74.2V66.9 M538.8 448.7V456.0 M480.3 132.7H473.0 M855.0 132.7H862.3 M550.6 74.2V66.9 M550.6 448.7V456.0 M480.3 144.5H473.0 M855.0 144.5H862.3 M562.3 74.2V66.9 M562.3 448.7V456.0 M480.3 156.2H473.0 M855.0 156.2H862.3 M585.7 74.2V66.9 M585.7 448.7V456.0 M480.3 179.6H473.0 M855.0 179.6H862.3 M597.4 74.2V66.9 M597.4 448.7V456.0 M480.3 191.3H473.0 M855.0 191.3H862.3 M609.1 74.2V66.9 M609.1 448.7V456.0 M480.3 203.0H473.0 M855.0 203.0H862.3 M620.8 74.2V66.9 M620.8 448.7V456.0 M480.3 214.7H473.0 M855.0 214.7H862.3 M632.5 74.2V66.9 M632.5 448.7V456.0 M480.3 226.4H473.0 M855.0 226.4H862.3 M644.2 74.2V66.9 M644.2 448.7V456.0 M480.3 238.1H473.0 M855.0 238.1H862.3 M655.9 74.2V66.9 M655.9 448.7V456.0 M480.3 249.8H473.0 M855.0 249.8H862.3 M679.4 74.2V66.9 M679.4 448.7V456.0 M480.3 273.3H473.0 M855.0 273.3H862.3 M691.1 74.2V66.9 M691.1 448.7V456.0 M480.3 285.0H473.0 M855.0 285.0H862.3 M702.8 74.2V66.9 M702.8 448.7V456.0 M480.3 296.7H473.0 M855.0 296.7H862.3 M714.5 74.2V66.9 M714.5 448.7V456.0 M480.3 308.4H473.0 M855.0 308.4H862.3 M726.2 74.2V66.9 M726.2 448.7V456.0 M480.3 320.1H473.0 M855.0 320.1H862.3 M737.9 74.2V66.9 M737.9 448.7V456.0 M480.3 331.8H473.0 M855.0 331.8H862.3 M749.6 74.2V66.9 M749.6 448.7V456.0 M480.3 343.5H473.0 M855.0 343.5H862.3 M773.0 74.2V66.9 M773.0 448.7V456.0 M480.3 366.9H473.0 M855.0 366.9H862.3 M784.7 74.2V66.9 M784.7 448.7V456.0 M480.3 378.6H473.0 M855.0 378.6H862.3 M796.5 74.2V66.9 M796.5 448.7V456.0 M480.3 390.4H473.0 M855.0 390.4H862.3 M808.2 74.2V66.9 M808.2 448.7V456.0 M480.3 402.1H473.0 M855.0 402.1H862.3 M819.9 74.2V66.9 M819.9 448.7V456.0 M480.3 413.8H473.0 M855.0 413.8H862.3 M831.6 74.2V66.9 M831.6 448.7V456.0 M480.3 425.5H473.0 M855.0 425.5H862.3 M843.3 74.2V66.9 M843.3 448.7V456.0 M480.3 437.2H473.0 M855.0 437.2H862.3" stroke="#000" stroke-width="1.25" fill="none"/>
<path d="M480.3 74.2V59.9 M480.3 448.7V463.0 M480.3 74.2H466.0 M855.0 74.2H869.3 M574.0 74.2V59.9 M574.0 448.7V463.0 M480.3 167.9H466.0 M855.0 167.9H869.3 M667.6 74.2V59.9 M667.6 448.7V463.0 M480.3 261.6H466.0 M855.0 261.6H869.3 M761.3 74.2V59.9 M761.3 448.7V463.0 M480.3 355.2H466.0 M855.0 355.2H869.3 M855.0 74.2V59.9 M855.0 448.7V463.0 M480.3 448.9H466.0 M855.0 448.9H869.3" stroke="#000" stroke-width="1.75" fill="none"/>
<rect x="58.80" y="508.7" width="9.31" height="11.3" fill="#000000"/>
<rect x="67.91" y="508.7" width="9.31" height="11.3" fill="#000000"/>
<rect x="77.01" y="508.7" width="9.31" height="11.3" fill="#000000"/>
<rect x="86.12" y="508.7" width="9.31" height="11.3" fill="#000000"/>
<rect x="95.22" y="508.7" width="9.31" height="11.3" fill="#000000"/>
<rect x="104.33" y="508.7" width="9.31" height="11.3" fill="#000000"/>
<rect x="113.43" y="508.7" width="9.31" height="11.3" fill="#000000"/>
<rect x="122.54" y="508.7" width="9.31" height="11.3" fill="#000000"/>
<rect x="131.64" y="508.7" width="9.31" height="11.3" fill="#000000"/>
<rect x="140.75" y="508.7" width="9.31" height="11.3" fill="#000000"/>
<rect x="149.85" y="508.7" width="9.31" height="11.3" fill="#090909"/>
<rect x="158.96" y="508.7" width="9.31" height="11.3" fill="#131313"/>
<rect x="168.07" y="508.7" width="9.31" height="11.3" fill="#1c1c1c"/>
<rect x="177.17" y="508.7" width="9.31" height="11.3" fill="#262626"/>
<rect x="186.28" y="508.7" width="9.31" height="11.3" fill="#2f2f2f"/>
<rect x="195.38" y="508.7" width="9.31" height="11.3" fill="#393939"/>
<rect x="204.49" y="508.7" width="9.31" height="11.3" fill="#424242"/>
<rect x="213.59" y="508.7" width="9.31" height="11.3" fill="#4c4c4c"/>
<rect x="222.70" y="508.7" width="9.31" height="11.3" fill="#555555"/>
<rect x="231.80" y="508.7" width="9.31" height="11.3" fill="#5e5e5e"/>
<rect x="240.91" y="508.7" width="9.31" height="11.3" fill="#686868"/>
<rect x="250.02" y="508.7" width="9.31" height="11.3" fill="#717171"/>
<rect x="259.12" y="508.7" width="9.31" height="11.3" fill="#7b7b7b"/>
<rect x="268.23" y="508.7" width="9.31" height="11.3" fill="#848484"/>
<rect x="277.33" y="508.7" width="9.31" height="11.3" fill="#8e8e8e"/>
<rect x="286.44" y="508.7" width="9.31" height="11.3" fill="#979797"/>
<rect x="295.54" y="508.7" width="9.31" height="11.3" fill="#a1a1a1"/>
<rect x="304.65" y="508.7" width="9.31" height="11.3" fill="#aaaaaa"/>
<rect x="313.75" y="508.7" width="9.31" height="11.3" fill="#b3b3b3"/>
<rect x="322.86" y="508.7" width="9.31" height="11.3" fill="#bdbdbd"/>
<rect x="331.96" y="508.7" width="9.31" height="11.3" fill="#c6c6c6"/>
<rect x="341.07" y="508.7" width="9.31" height="11.3" fill="#d0d0d0"/>
<rect x="350.18" y="508.7" width="9.31" height="11.3" fill="#d9d9d9"/>
<rect x="359.28" y="508.7" width="9.31" height="11.3" fill="#e3e3e3"/>
<rect x="368.39" y="508.7" width="9.31" height="11.3" fill="#ececec"/>
<rect x="377.49" y="508.7" width="9.31" height="11.3" fill="#f6f6f6"/>
<path d="M386.6 508.7L396.3 514.4L386.6 520.0Z" fill="#ffff00"/>
<path d="M58.80 508.7V520.0 M67.91 508.7V520.0 M77.01 508.7V520.0 M86.12 508.7V520.0 M95.22 508.7V520.0 M104.33 508.7V520.0 M113.43 508.7V520.0 M122.54 508.7V520.0 M131.64 508.7V520.0 M140.75 508.7V520.0 M149.85 508.7V520.0 M158.96 508.7V520.0 M168.07 508.7V520.0 M177.17 508.7V520.0 M186.28 508.7V520.0 M195.38 508.7V520.0 M204.49 508.7V520.0 M213.59 508.7V520.0 M222.70 508.7V520.0 M231.80 508.7V520.0 M240.91 508.7V520.0 M250.02 508.7V520.0 M259.12 508.7V520.0 M268.23 508.7V520.0 M277.33 508.7V520.0 M286.44 508.7V520.0 M295.54 508.7V520.0 M304.65 508.7V520.0 M313.75 508.7V520.0 M322.86 508.7V520.0 M331.96 508.7V520.0 M341.07 508.7V520.0 M350.18 508.7V520.0 M359.28 508.7V520.0 M368.39 508.7V520.0 M377.49 508.7V520.0 M386.60 508.7V520.0" stroke="#000" stroke-width="1.5" fill="none"/>
<path d="M58.8 509.1H386.6L396.3 514.4L386.6 519.6H58.8Z" fill="none" stroke="#000" stroke-width="1.6" stroke-linejoin="miter"/>
<path d="M67.91 520.0V525.8 M77.01 520.0V525.8 M86.12 520.0V525.8 M95.22 520.0V525.8 M113.43 520.0V525.8 M122.54 520.0V525.8 M131.64 520.0V525.8 M140.75 520.0V525.8 M158.96 520.0V525.8 M168.07 520.0V525.8 M177.17 520.0V525.8 M186.28 520.0V525.8 M204.49 520.0V525.8 M213.59 520.0V525.8 M222.70 520.0V525.8 M231.80 520.0V525.8 M250.02 520.0V525.8 M259.12 520.0V525.8 M268.23 520.0V525.8 M277.33 520.0V525.8 M295.54 520.0V525.8 M304.65 520.0V525.8 M313.75 520.0V525.8 M322.86 520.0V525.8 M341.07 520.0V525.8 M350.18 520.0V525.8 M359.28 520.0V525.8 M368.39 520.0V525.8 M386.60 520.0V525.8" stroke="#000" stroke-width="1.1" fill="none"/>
<path d="M58.80 520.0V533.3 M104.33 520.0V533.3 M149.85 520.0V533.3 M195.38 520.0V533.3 M240.91 520.0V533.3 M286.44 520.0V533.3 M331.96 520.0V533.3 M377.49 520.0V533.3" stroke="#000" stroke-width="1.5" fill="none"/>
<rect x="480.32" y="508.7" width="8.82" height="11.3" fill="#c3feff"/>
<rect x="488.94" y="508.7" width="8.82" height="11.3" fill="#a5fbff"/>
<rect x="497.56" y="508.7" width="8.82" height="11.3" fill="#8cf7fe"/>
<rect x="506.18" y="508.7" width="8.82" height="11.3" fill="#78f0fc"/>
<rect x="514.80" y="508.7" width="8.82" height="11.3" fill="#64e9fb"/>
<rect x="523.42" y="508.7" width="8.82" height="11.3" fill="#52daf9"/>
<rect x="532.04" y="508.7" width="8.82" height="11.3" fill="#41c3f8"/>
<rect x="540.66" y="508.7" width="8.82" height="11.3" fill="#30acf6"/>
<rect x="549.28" y="508.7" width="8.82" height="11.3" fill="#2393f4"/>
<rect x="557.90" y="508.7" width="8.82" height="11.3" fill="#1978f2"/>
<rect x="566.52" y="508.7" width="8.82" height="11.3" fill="#0f5df1"/>
<rect x="575.14" y="508.7" width="8.82" height="11.3" fill="#0843f2"/>
<rect x="583.76" y="508.7" width="8.82" height="11.3" fill="#0528f8"/>
<rect x="592.38" y="508.7" width="8.82" height="11.3" fill="#020dfc"/>
<rect x="601.00" y="508.7" width="8.82" height="11.3" fill="#0000ef"/>
<rect x="609.62" y="508.7" width="8.82" height="11.3" fill="#0000ce"/>
<rect x="618.24" y="508.7" width="8.82" height="11.3" fill="#0000ad"/>
<rect x="626.86" y="508.7" width="8.82" height="11.3" fill="#00008c"/>
<rect x="635.48" y="508.7" width="8.82" height="11.3" fill="#00006b"/>
<rect x="644.10" y="508.7" width="8.82" height="11.3" fill="#f20c00"/>
<rect x="652.72" y="508.7" width="8.82" height="11.3" fill="#fb2600"/>
<rect x="661.34" y="508.7" width="8.82" height="11.3" fill="#ff3e00"/>
<rect x="669.96" y="508.7" width="8.82" height="11.3" fill="#ff5500"/>
<rect x="678.58" y="508.7" width="8.82" height="11.3" fill="#ff6c00"/>
<rect x="687.20" y="508.7" width="8.82" height="11.3" fill="#ff8005"/>
<rect x="695.82" y="508.7" width="8.82" height="11.3" fill="#ff910f"/>
<rect x="704.44" y="508.7" width="8.82" height="11.3" fill="#ffa219"/>
<rect x="713.06" y="508.7" width="8.82" height="11.3" fill="#ffb323"/>
<rect x="721.68" y="508.7" width="8.82" height="11.3" fill="#ffc62d"/>
<rect x="730.30" y="508.7" width="8.82" height="11.3" fill="#ffd837"/>
<rect x="738.92" y="508.7" width="8.82" height="11.3" fill="#ffe544"/>
<rect x="747.54" y="508.7" width="8.82" height="11.3" fill="#ffee55"/>
<rect x="756.16" y="508.7" width="8.82" height="11.3" fill="#fff666"/>
<rect x="764.78" y="508.7" width="8.82" height="11.3" fill="#fffb78"/>
<rect x="773.40" y="508.7" width="8.82" height="11.3" fill="#fffc8c"/>
<rect x="782.02" y="508.7" width="8.82" height="11.3" fill="#fffea0"/>
<rect x="790.64" y="508.7" width="8.82" height="11.3" fill="#ffffb5"/>
<rect x="799.26" y="508.7" width="8.82" height="11.3" fill="#ffffcc"/>
<path d="M480.3 508.7L471.5 514.4L480.3 520.0Z" fill="#e6ffff"/>
<path d="M807.9 508.7L816.6 514.4L807.9 520.0Z" fill="#ffffe0"/>
<path d="M480.32 508.7V520.0 M488.94 508.7V520.0 M497.56 508.7V520.0 M506.18 508.7V520.0 M514.80 508.7V520.0 M523.42 508.7V520.0 M532.04 508.7V520.0 M540.66 508.7V520.0 M549.28 508.7V520.0 M557.90 508.7V520.0 M566.52 508.7V520.0 M575.14 508.7V520.0 M583.76 508.7V520.0 M592.38 508.7V520.0 M601.00 508.7V520.0 M609.62 508.7V520.0 M618.24 508.7V520.0 M626.86 508.7V520.0 M635.48 508.7V520.0 M644.10 508.7V520.0 M652.72 508.7V520.0 M661.34 508.7V520.0 M669.96 508.7V520.0 M678.58 508.7V520.0 M687.20 508.7V520.0 M695.82 508.7V520.0 M704.44 508.7V520.0 M713.06 508.7V520.0 M721.68 508.7V520.0 M730.30 508.7V520.0 M738.92 508.7V520.0 M747.54 508.7V520.0 M756.16 508.7V520.0 M764.78 508.7V520.0 M773.40 508.7V520.0 M782.02 508.7V520.0 M790.64 508.7V520.0 M799.26 508.7V520.0 M807.88 508.7V520.0" stroke="#000" stroke-width="1.5" fill="none"/>
<path d="M480.3 509.1H807.9L816.6 514.4L807.9 519.6H480.3L471.5 514.4Z" fill="none" stroke="#000" stroke-width="1.6"/>
<path d="M480.32 520.0V525.8 M488.94 520.0V525.8 M497.56 520.0V525.8 M514.80 520.0V525.8 M523.42 520.0V525.8 M532.04 520.0V525.8 M540.66 520.0V525.8 M549.28 520.0V525.8 M557.90 520.0V525.8 M566.52 520.0V525.8 M583.76 520.0V525.8 M592.38 520.0V525.8 M601.00 520.0V525.8 M609.62 520.0V525.8 M618.24 520.0V525.8 M626.86 520.0V525.8 M635.48 520.0V525.8 M652.72 520.0V525.8 M661.34 520.0V525.8 M669.96 520.0V525.8 M678.58 520.0V525.8 M687.20 520.0V525.8 M695.82 520.0V525.8 M704.44 520.0V525.8 M721.68 520.0V525.8 M730.30 520.0V525.8 M738.92 520.0V525.8 M747.54 520.0V525.8 M756.16 520.0V525.8 M764.78 520.0V525.8 M773.40 520.0V525.8 M790.64 520.0V525.8 M799.26 520.0V525.8 M807.88 520.0V525.8" stroke="#000" stroke-width="1.1" fill="none"/>
<path d="M506.18 520.0V533.3 M575.14 520.0V533.3 M644.10 520.0V533.3 M713.06 520.0V533.3 M782.02 520.0V533.3" stroke="#000" stroke-width="1.5" fill="none"/>
<text transform="scale(0.92 1)" x="63.07 84.49 108.32 129.60 151.16 174.25 193.18 212.24 240.24 232.64 252.74 270.25 293.79 313.50 334.33 353.99 372.11 400.11 400.36 409.49 431.59 450.69 459.33 481.70 500.72 528.72 520.94 542.22 550.91 571.38 592.27 602.30 622.39" y="24.9" font-size="35">Fukuoka, 20190204 [13:17, el=0.0]</text>
<text transform="scale(0.92 1)" x="63.99 85.21 106.42 129.94 134.57 144.00 162.98 182.98" y="58.3" font-size="29.4">SNR [dB]</text>
<text transform="scale(0.95 1)" x="505.49 527.55 545.13 564.87 583.56 592.28 610.74 634.26 629.46 649.65 668.09 676.28 693.42 709.09 718.53 730.21 753.73 754.99 766.45 795.92 806.23 822.07" y="58.3" font-size="29.4">Doppler Velocity [m/s]</text>
<text x="31.3" y="84.5" font-size="29.4" text-anchor="end">8</text>
<text x="31.3" y="178.2" font-size="29.4" text-anchor="end">4</text>
<text x="31.3" y="271.9" font-size="29.4" text-anchor="end">0</text>
<text x="31.3" y="365.5" font-size="29.4" text-anchor="end">−4</text>
<text x="31.3" y="459.2" font-size="29.4" text-anchor="end">−8</text>
<text x="58.5" y="499.6" font-size="29.4" text-anchor="middle">−8</text>
<text x="152.2" y="499.6" font-size="29.4" text-anchor="middle">−4</text>
<text x="245.8" y="499.6" font-size="29.4" text-anchor="middle">0</text>
<text x="339.5" y="499.6" font-size="29.4" text-anchor="middle">4</text>
<text x="433.2" y="499.6" font-size="29.4" text-anchor="middle">8</text>
<text x="480.3" y="499.6" font-size="29.4" text-anchor="middle">−8</text>
<text x="574.0" y="499.6" font-size="29.4" text-anchor="middle">−4</text>
<text x="667.6" y="499.6" font-size="29.4" text-anchor="middle">0</text>
<text x="761.3" y="499.6" font-size="29.4" text-anchor="middle">4</text>
<text x="855.0" y="499.6" font-size="29.4" text-anchor="middle">8</text>
<text x="58.8" y="569.5" font-size="29.4" text-anchor="middle">0</text>
<text x="104.3" y="569.5" font-size="29.4" text-anchor="middle" textLength="39.3" lengthAdjust="spacingAndGlyphs">2.5</text>
<text x="149.9" y="569.5" font-size="29.4" text-anchor="middle">5</text>
<text x="195.4" y="569.5" font-size="29.4" text-anchor="middle" textLength="39.3" lengthAdjust="spacingAndGlyphs">7.5</text>
<text x="240.9" y="569.5" font-size="29.4" text-anchor="middle">10</text>
<text x="286.4" y="569.5" font-size="29.4" text-anchor="middle" textLength="55.0" lengthAdjust="spacingAndGlyphs">12.5</text>
<text x="332.0" y="569.5" font-size="29.4" text-anchor="middle">15</text>
<text x="377.5" y="569.5" font-size="29.4" text-anchor="middle" textLength="55.0" lengthAdjust="spacingAndGlyphs">17.5</text>
<text x="506.2" y="569.5" font-size="29.4" text-anchor="middle">−8</text>
<text x="575.1" y="569.5" font-size="29.4" text-anchor="middle">−4</text>
<text x="644.1" y="569.5" font-size="29.4" text-anchor="middle">0</text>
<text x="713.1" y="569.5" font-size="29.4" text-anchor="middle">4</text>
<text x="782.0" y="569.5" font-size="29.4" text-anchor="middle">8</text>
</svg></body></html>
